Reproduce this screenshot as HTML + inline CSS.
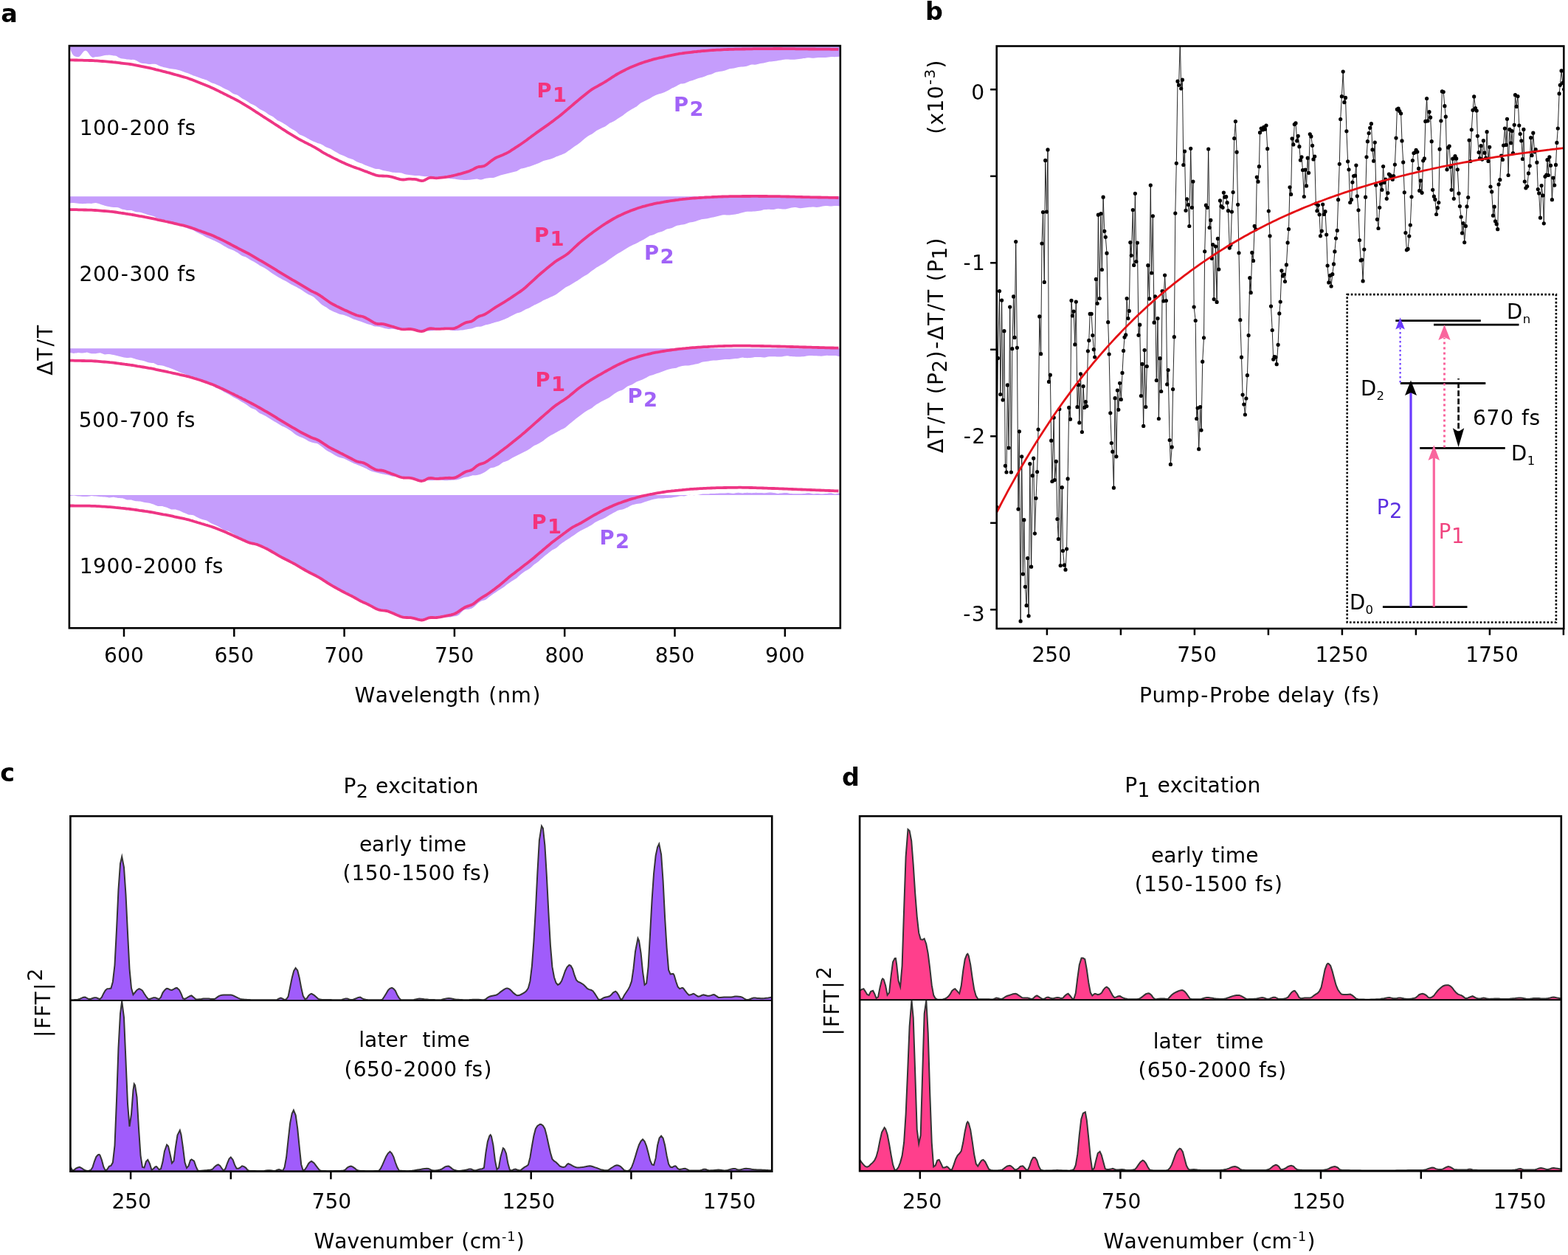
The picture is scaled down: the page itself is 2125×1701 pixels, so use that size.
<!DOCTYPE html>
<html lang="en">
<head>
<meta charset="utf-8">
<title>Figure</title>
<style>
html,body{margin:0;padding:0;background:#fff;}
body{width:2125px;height:1701px;overflow:hidden;}
svg{display:block;}
svg text{font-family:"DejaVu Sans", "Liberation Sans", sans-serif;}
</style>
</head>
<body>
<svg xmlns="http://www.w3.org/2000/svg" width="2125" height="1701" viewBox="0 0 2125 1701">
<rect width="2125" height="1701" fill="#fff"/>
<g id="panel-a">
<clipPath id="clipA"><rect x="93.9" y="62.1" width="1044.9" height="789.2"/></clipPath>
<g clip-path="url(#clipA)">
<path d="M93.9 63.0 L95.9 68.6 L97.9 73.1 L99.9 75.6 L101.9 76.5 L103.9 76.9 L105.9 77.2 L107.9 76.5 L109.9 74.3 L111.9 71.6 L113.9 69.2 L115.9 68.4 L117.9 69.6 L119.9 72.1 L121.9 74.9 L123.9 77.1 L125.9 77.9 L127.9 77.6 L129.9 77.1 L131.9 76.9 L133.9 76.7 L135.9 76.6 L137.9 76.1 L139.9 75.6 L141.9 75.0 L143.9 74.8 L145.9 74.7 L147.9 74.5 L149.9 74.8 L151.9 75.0 L154.0 75.4 L156.0 75.5 L158.0 76.1 L160.0 77.5 L162.0 78.5 L164.0 79.3 L166.0 79.5 L168.0 79.8 L170.0 80.1 L172.0 80.4 L174.0 80.6 L176.0 80.8 L178.0 81.0 L180.0 80.8 L182.0 81.0 L184.0 81.7 L186.0 82.7 L188.0 84.0 L190.0 85.1 L192.0 85.8 L194.0 86.1 L196.0 85.9 L198.0 86.3 L200.0 86.7 L202.0 87.0 L204.0 86.9 L206.0 86.8 L208.0 86.7 L210.0 86.7 L212.0 87.3 L214.0 88.2 L216.0 89.2 L218.0 90.1 L220.0 90.6 L222.0 91.2 L224.0 91.6 L226.0 92.0 L228.0 92.5 L230.0 92.9 L232.0 93.3 L234.0 93.6 L236.0 93.8 L238.0 94.1 L240.0 94.6 L242.0 95.1 L244.0 95.6 L246.0 96.2 L248.0 96.9 L250.0 97.7 L252.0 98.4 L254.0 99.1 L256.0 99.8 L258.0 100.7 L260.0 101.5 L262.0 102.4 L264.0 103.0 L266.0 103.7 L268.1 104.4 L270.1 105.2 L272.1 106.0 L274.1 106.8 L276.1 107.3 L278.1 107.9 L280.1 108.6 L282.1 109.7 L284.1 110.8 L286.1 112.0 L288.1 112.7 L290.1 113.3 L292.1 114.0 L294.1 114.9 L296.1 115.8 L298.1 116.7 L300.1 117.8 L302.1 118.9 L304.1 120.0 L306.1 120.9 L308.1 121.8 L310.1 122.8 L312.1 124.2 L314.1 125.7 L316.1 127.1 L318.1 127.7 L320.1 128.3 L322.1 129.0 L324.1 130.5 L326.1 132.0 L328.1 133.4 L330.1 134.5 L332.1 135.6 L334.1 136.7 L336.1 138.1 L338.1 139.5 L340.1 140.8 L342.1 141.6 L344.1 142.5 L346.1 143.4 L348.1 145.0 L350.1 146.6 L352.1 148.1 L354.1 149.0 L356.1 149.9 L358.1 150.9 L360.1 152.3 L362.1 153.8 L364.1 155.2 L366.1 156.2 L368.1 157.2 L370.1 158.3 L372.1 159.9 L374.1 161.6 L376.1 163.2 L378.1 164.1 L380.1 165.1 L382.1 166.1 L384.1 167.3 L386.2 168.5 L388.2 169.8 L390.2 171.2 L392.2 172.7 L394.2 174.1 L396.2 175.2 L398.2 176.3 L400.2 177.4 L402.2 179.1 L404.2 180.9 L406.2 182.5 L408.2 183.3 L410.2 184.1 L412.2 184.9 L414.2 186.1 L416.2 187.2 L418.2 188.2 L420.2 189.4 L422.2 190.5 L424.2 191.5 L426.2 192.3 L428.2 193.1 L430.2 193.9 L432.2 194.5 L434.2 195.1 L436.2 195.9 L438.2 197.1 L440.2 198.4 L442.2 199.6 L444.2 200.3 L446.2 201.0 L448.2 201.7 L450.2 202.9 L452.2 204.2 L454.2 205.4 L456.2 206.6 L458.2 207.8 L460.2 208.9 L462.2 209.7 L464.2 210.5 L466.2 211.3 L468.2 212.3 L470.2 213.3 L472.2 214.2 L474.2 214.8 L476.2 215.4 L478.2 216.1 L480.2 217.3 L482.2 218.4 L484.2 219.4 L486.2 220.2 L488.2 220.9 L490.2 221.6 L492.2 222.6 L494.2 223.5 L496.2 224.3 L498.2 225.0 L500.2 225.7 L502.3 226.4 L504.3 227.3 L506.3 228.1 L508.3 228.8 L510.3 229.0 L512.3 229.1 L514.3 229.2 L516.3 230.0 L518.3 230.7 L520.3 231.3 L522.3 231.6 L524.3 231.9 L526.3 232.3 L528.3 232.8 L530.3 233.3 L532.3 233.7 L534.3 233.8 L536.3 233.9 L538.3 234.0 L540.3 234.1 L542.3 234.2 L544.3 234.4 L546.3 235.2 L548.3 235.9 L550.3 236.6 L552.3 236.8 L554.3 237.0 L556.3 237.2 L558.3 237.5 L560.3 237.8 L562.3 238.1 L564.3 238.0 L566.3 238.0 L568.3 238.0 L570.3 238.4 L572.3 238.7 L574.3 239.0 L576.3 239.2 L578.3 239.3 L580.3 239.5 L582.3 239.8 L584.3 240.1 L586.3 240.3 L588.3 240.3 L590.3 240.3 L592.3 240.3 L594.3 240.5 L596.3 240.8 L598.3 240.9 L600.3 241.0 L602.3 241.0 L604.3 241.1 L606.3 241.5 L608.3 241.8 L610.3 242.2 L612.3 242.3 L614.3 242.4 L616.3 242.6 L618.4 242.9 L620.4 243.2 L622.4 243.5 L624.4 243.7 L626.4 243.8 L628.4 243.9 L630.4 243.9 L632.4 243.9 L634.4 243.8 L636.4 243.7 L638.4 243.5 L640.4 243.3 L642.4 243.0 L644.4 242.8 L646.4 242.6 L648.4 243.0 L650.4 243.4 L652.4 243.6 L654.4 243.0 L656.4 242.3 L658.4 241.8 L660.4 241.5 L662.4 241.3 L664.4 241.1 L666.4 241.0 L668.4 240.9 L670.4 240.6 L672.4 239.8 L674.4 239.0 L676.4 238.2 L678.4 237.6 L680.4 237.0 L682.4 236.4 L684.4 235.9 L686.4 235.5 L688.4 235.0 L690.4 234.5 L692.4 234.0 L694.4 233.4 L696.4 233.0 L698.4 232.5 L700.4 231.9 L702.4 230.8 L704.4 229.6 L706.4 228.6 L708.4 228.2 L710.4 227.7 L712.4 227.2 L714.4 226.6 L716.4 226.1 L718.4 225.5 L720.4 224.8 L722.4 224.1 L724.4 223.3 L726.4 222.5 L728.4 221.8 L730.4 220.9 L732.4 219.9 L734.5 218.9 L736.5 218.0 L738.5 217.5 L740.5 217.0 L742.5 216.5 L744.5 216.0 L746.5 215.4 L748.5 214.8 L750.5 213.9 L752.5 212.9 L754.5 212.1 L756.5 211.4 L758.5 210.6 L760.5 209.9 L762.5 209.1 L764.5 208.2 L766.5 207.2 L768.5 205.8 L770.5 204.3 L772.5 202.9 L774.5 201.5 L776.5 200.0 L778.5 198.6 L780.5 197.3 L782.5 195.9 L784.5 194.5 L786.5 192.9 L788.5 191.2 L790.5 189.4 L792.5 187.8 L794.5 186.2 L796.5 184.7 L798.5 183.6 L800.5 182.5 L802.5 181.4 L804.5 179.9 L806.5 178.4 L808.5 177.1 L810.5 176.0 L812.5 174.9 L814.5 173.9 L816.5 173.1 L818.5 172.3 L820.5 171.3 L822.5 169.7 L824.5 168.2 L826.5 166.8 L828.5 166.0 L830.5 165.1 L832.5 164.1 L834.5 162.7 L836.5 161.3 L838.5 159.9 L840.5 158.7 L842.5 157.5 L844.5 156.2 L846.5 154.6 L848.5 153.0 L850.6 151.5 L852.6 150.3 L854.6 149.0 L856.6 147.7 L858.6 146.7 L860.6 145.6 L862.6 144.4 L864.6 142.7 L866.6 141.1 L868.6 139.6 L870.6 138.5 L872.6 137.5 L874.6 136.5 L876.6 135.5 L878.6 134.6 L880.6 133.5 L882.6 132.3 L884.6 131.0 L886.6 129.9 L888.6 129.1 L890.6 128.2 L892.6 127.5 L894.6 127.0 L896.6 126.4 L898.6 125.8 L900.6 124.9 L902.6 124.0 L904.6 123.0 L906.6 121.9 L908.6 120.7 L910.6 119.6 L912.6 118.7 L914.6 117.7 L916.6 116.7 L918.6 115.5 L920.6 114.4 L922.6 113.6 L924.6 113.4 L926.6 113.2 L928.6 112.8 L930.6 111.8 L932.6 110.9 L934.6 110.1 L936.6 109.5 L938.6 109.0 L940.6 108.3 L942.6 107.5 L944.6 106.7 L946.6 106.0 L948.6 105.5 L950.6 105.1 L952.6 104.5 L954.6 103.7 L956.6 102.9 L958.6 102.1 L960.6 101.6 L962.6 101.0 L964.6 100.4 L966.7 99.4 L968.7 98.5 L970.7 97.8 L972.7 97.4 L974.7 97.1 L976.7 96.7 L978.7 96.4 L980.7 96.0 L982.7 95.5 L984.7 94.7 L986.7 93.9 L988.7 93.3 L990.7 93.1 L992.7 92.8 L994.7 92.5 L996.7 91.9 L998.7 91.4 L1000.7 90.9 L1002.7 90.8 L1004.7 90.6 L1006.7 90.4 L1008.7 90.2 L1010.7 90.0 L1012.7 89.6 L1014.7 88.8 L1016.7 88.0 L1018.7 87.6 L1020.7 87.6 L1022.7 87.7 L1024.7 87.5 L1026.7 87.0 L1028.7 86.5 L1030.7 86.1 L1032.7 85.8 L1034.7 85.4 L1036.7 85.0 L1038.7 84.5 L1040.7 84.0 L1042.7 83.6 L1044.7 83.5 L1046.7 83.3 L1048.7 83.1 L1050.7 82.8 L1052.7 82.5 L1054.7 82.1 L1056.7 81.7 L1058.7 81.4 L1060.7 81.1 L1062.7 80.8 L1064.7 80.6 L1066.7 80.6 L1068.7 80.6 L1070.7 80.7 L1072.7 80.7 L1074.7 80.7 L1076.7 80.7 L1078.7 80.6 L1080.8 80.3 L1082.8 80.0 L1084.8 79.7 L1086.8 79.4 L1088.8 79.1 L1090.8 78.9 L1092.8 78.6 L1094.8 78.3 L1096.8 78.3 L1098.8 78.5 L1100.8 78.8 L1102.8 78.8 L1104.8 78.5 L1106.8 78.3 L1108.8 78.1 L1110.8 78.1 L1112.8 78.1 L1114.8 78.0 L1116.8 77.9 L1118.8 77.9 L1120.8 77.7 L1122.8 77.5 L1124.8 77.2 L1126.8 77.1 L1128.8 77.1 L1130.8 77.2 L1132.8 77.1 L1134.8 77.0 L1136.8 76.8 L1138.8 76.5 L1138.8 62.1 L93.9 62.1 Z" fill="#c59dfc" stroke="none"/>
<path d="M93.9 275.3 L95.9 275.2 L97.9 275.1 L99.9 275.0 L101.9 275.3 L103.9 275.6 L105.9 275.8 L107.9 276.0 L109.9 276.1 L111.9 276.3 L113.9 276.1 L115.9 275.9 L117.9 275.8 L119.9 275.8 L121.9 275.8 L123.9 275.9 L125.9 275.6 L127.9 275.3 L129.9 275.1 L131.9 275.6 L133.9 276.1 L135.9 276.7 L137.9 277.4 L139.9 278.1 L141.9 278.8 L143.9 279.2 L145.9 279.7 L147.9 280.1 L149.9 280.5 L151.9 280.8 L154.0 281.1 L156.0 281.1 L158.0 281.1 L160.0 281.2 L162.0 282.0 L164.0 282.9 L166.0 283.7 L168.0 284.1 L170.0 284.5 L172.0 284.9 L174.0 284.9 L176.0 284.9 L178.0 285.0 L180.0 285.7 L182.0 286.5 L184.0 287.2 L186.0 287.4 L188.0 287.5 L190.0 287.7 L192.0 288.3 L194.0 288.9 L196.0 289.6 L198.0 290.2 L200.0 290.9 L202.0 291.6 L204.0 292.1 L206.0 292.6 L208.0 293.0 L210.0 294.0 L212.0 294.9 L214.0 295.8 L216.0 296.5 L218.0 297.1 L220.0 297.7 L222.0 298.0 L224.0 298.4 L226.0 298.8 L228.0 299.4 L230.0 300.0 L232.0 300.7 L234.0 301.2 L236.0 301.8 L238.0 302.4 L240.0 303.1 L242.0 303.8 L244.0 304.5 L246.0 305.6 L248.0 306.8 L250.0 307.9 L252.0 308.6 L254.0 309.4 L256.0 310.2 L258.0 310.7 L260.0 311.3 L262.0 312.0 L264.0 313.2 L266.0 314.4 L268.1 315.6 L270.1 316.5 L272.1 317.4 L274.1 318.3 L276.1 319.5 L278.1 320.7 L280.1 321.8 L282.1 322.6 L284.1 323.5 L286.1 324.3 L288.1 325.2 L290.1 326.1 L292.1 327.0 L294.1 328.0 L296.1 328.9 L298.1 329.9 L300.1 331.2 L302.1 332.5 L304.1 333.7 L306.1 334.8 L308.1 335.9 L310.1 337.0 L312.1 337.7 L314.1 338.5 L316.1 339.2 L318.1 340.3 L320.1 341.4 L322.1 342.5 L324.1 344.0 L326.1 345.4 L328.1 346.8 L330.1 347.5 L332.1 348.1 L334.1 348.9 L336.1 350.2 L338.1 351.5 L340.1 352.8 L342.1 353.8 L344.1 354.8 L346.1 355.9 L348.1 357.2 L350.1 358.5 L352.1 359.9 L354.1 360.9 L356.1 361.9 L358.1 363.0 L360.1 364.3 L362.1 365.6 L364.1 366.9 L366.1 368.4 L368.1 369.9 L370.1 371.3 L372.1 372.6 L374.1 373.8 L376.1 375.1 L378.1 376.2 L380.1 377.3 L382.1 378.4 L384.1 379.5 L386.2 380.5 L388.2 381.6 L390.2 382.8 L392.2 384.0 L394.2 385.2 L396.2 386.2 L398.2 387.2 L400.2 388.3 L402.2 389.3 L404.2 390.4 L406.2 391.5 L408.2 392.8 L410.2 394.1 L412.2 395.4 L414.2 396.7 L416.2 398.0 L418.2 399.2 L420.2 400.0 L422.2 400.9 L424.2 402.0 L426.2 403.6 L428.2 405.4 L430.2 407.2 L432.2 409.2 L434.2 411.2 L436.2 413.0 L438.2 414.3 L440.2 415.4 L442.2 416.5 L444.2 418.0 L446.2 419.4 L448.2 420.6 L450.2 421.6 L452.2 422.4 L454.2 423.3 L456.2 424.1 L458.2 425.0 L460.2 425.8 L462.2 426.2 L464.2 426.6 L466.2 427.1 L468.2 427.8 L470.2 428.6 L472.2 429.3 L474.2 430.3 L476.2 431.3 L478.2 432.3 L480.2 433.0 L482.2 433.6 L484.2 434.3 L486.2 434.9 L488.2 435.5 L490.2 436.2 L492.2 437.0 L494.2 437.8 L496.2 438.6 L498.2 439.2 L500.2 439.7 L502.3 440.3 L504.3 441.1 L506.3 441.9 L508.3 442.5 L510.3 442.6 L512.3 442.7 L514.3 442.9 L516.3 443.5 L518.3 444.1 L520.3 444.7 L522.3 445.2 L524.3 445.6 L526.3 446.0 L528.3 445.9 L530.3 445.8 L532.3 445.7 L534.3 446.1 L536.3 446.4 L538.3 446.7 L540.3 446.7 L542.3 446.7 L544.3 446.7 L546.3 446.9 L548.3 447.1 L550.3 447.3 L552.3 447.2 L554.3 447.1 L556.3 447.1 L558.3 447.2 L560.3 447.3 L562.3 447.4 L564.3 448.0 L566.3 448.5 L568.3 448.9 L570.3 448.7 L572.3 448.6 L574.3 448.4 L576.3 448.5 L578.3 448.5 L580.3 448.5 L582.3 448.4 L584.3 448.3 L586.3 448.2 L588.3 447.8 L590.3 447.4 L592.3 447.1 L594.3 446.9 L596.3 446.7 L598.3 446.5 L600.3 446.3 L602.3 446.1 L604.3 446.0 L606.3 446.4 L608.3 446.8 L610.3 447.4 L612.3 447.7 L614.3 448.1 L616.3 448.2 L618.4 448.1 L620.4 447.9 L622.4 447.7 L624.4 447.6 L626.4 447.5 L628.4 447.2 L630.4 446.8 L632.4 446.4 L634.4 446.0 L636.4 445.7 L638.4 445.4 L640.4 445.0 L642.4 444.2 L644.4 443.5 L646.4 442.9 L648.4 442.8 L650.4 442.7 L652.4 442.4 L654.4 441.7 L656.4 441.0 L658.4 440.3 L660.4 439.9 L662.4 439.5 L664.4 439.0 L666.4 438.3 L668.4 437.7 L670.4 437.0 L672.4 436.5 L674.4 436.0 L676.4 435.4 L678.4 434.8 L680.4 434.1 L682.4 433.3 L684.4 432.5 L686.4 431.6 L688.4 430.7 L690.4 429.6 L692.4 428.5 L694.4 427.4 L696.4 426.4 L698.4 425.4 L700.4 424.6 L702.4 424.0 L704.4 423.5 L706.4 422.8 L708.4 421.6 L710.4 420.4 L712.4 419.3 L714.4 418.5 L716.4 417.7 L718.4 416.7 L720.4 415.6 L722.4 414.4 L724.4 413.3 L726.4 412.4 L728.4 411.5 L730.4 410.5 L732.4 409.4 L734.5 408.2 L736.5 407.1 L738.5 406.2 L740.5 405.3 L742.5 404.4 L744.5 403.5 L746.5 402.6 L748.5 401.7 L750.5 400.7 L752.5 399.7 L754.5 398.5 L756.5 397.1 L758.5 395.6 L760.5 394.1 L762.5 392.6 L764.5 391.0 L766.5 389.6 L768.5 388.6 L770.5 387.5 L772.5 386.4 L774.5 385.2 L776.5 383.9 L778.5 382.7 L780.5 381.5 L782.5 380.4 L784.5 379.1 L786.5 377.7 L788.5 376.2 L790.5 374.9 L792.5 373.8 L794.5 372.8 L796.5 371.5 L798.5 369.9 L800.5 368.3 L802.5 366.8 L804.5 365.4 L806.5 364.0 L808.5 362.6 L810.5 361.5 L812.5 360.2 L814.5 359.1 L816.5 357.9 L818.5 356.8 L820.5 355.6 L822.5 354.1 L824.5 352.6 L826.5 351.1 L828.5 349.7 L830.5 348.2 L832.5 346.9 L834.5 345.6 L836.5 344.3 L838.5 343.1 L840.5 342.0 L842.5 340.8 L844.5 339.6 L846.5 338.3 L848.5 337.0 L850.6 335.7 L852.6 334.6 L854.6 333.5 L856.6 332.5 L858.6 331.6 L860.6 330.7 L862.6 329.8 L864.6 328.7 L866.6 327.6 L868.6 326.5 L870.6 325.5 L872.6 324.5 L874.6 323.3 L876.6 322.0 L878.6 320.7 L880.6 319.6 L882.6 319.0 L884.6 318.4 L886.6 317.7 L888.6 316.7 L890.6 315.8 L892.6 315.0 L894.6 314.5 L896.6 314.0 L898.6 313.3 L900.6 312.2 L902.6 311.1 L904.6 310.2 L906.6 309.9 L908.6 309.6 L910.6 309.1 L912.6 308.0 L914.6 307.0 L916.6 306.1 L918.6 305.6 L920.6 305.2 L922.6 304.7 L924.6 304.5 L926.6 304.2 L928.6 303.7 L930.6 303.0 L932.6 302.2 L934.6 301.6 L936.6 301.3 L938.6 301.0 L940.6 300.5 L942.6 299.9 L944.6 299.2 L946.6 298.5 L948.6 297.9 L950.6 297.3 L952.6 296.9 L954.6 296.8 L956.6 296.6 L958.6 296.3 L960.6 295.8 L962.6 295.3 L964.6 294.8 L966.7 294.4 L968.7 294.0 L970.7 293.5 L972.7 293.0 L974.7 292.4 L976.7 291.9 L978.7 291.6 L980.7 291.3 L982.7 291.2 L984.7 291.4 L986.7 291.5 L988.7 291.5 L990.7 291.2 L992.7 291.0 L994.7 290.7 L996.7 290.4 L998.7 290.1 L1000.7 289.7 L1002.7 289.1 L1004.7 288.4 L1006.7 287.9 L1008.7 287.4 L1010.7 287.0 L1012.7 286.7 L1014.7 286.7 L1016.7 286.8 L1018.7 286.8 L1020.7 286.6 L1022.7 286.5 L1024.7 286.3 L1026.7 286.1 L1028.7 285.8 L1030.7 285.4 L1032.7 284.9 L1034.7 284.3 L1036.7 284.0 L1038.7 283.9 L1040.7 283.8 L1042.7 283.8 L1044.7 284.0 L1046.7 284.1 L1048.7 283.9 L1050.7 283.4 L1052.7 282.9 L1054.7 282.7 L1056.7 283.0 L1058.7 283.3 L1060.7 283.5 L1062.7 283.4 L1064.7 283.4 L1066.7 283.1 L1068.7 282.5 L1070.7 281.9 L1072.7 281.5 L1074.7 281.3 L1076.7 281.1 L1078.7 281.1 L1080.8 281.6 L1082.8 282.1 L1084.8 282.2 L1086.8 282.0 L1088.8 281.8 L1090.8 281.6 L1092.8 281.3 L1094.8 281.0 L1096.8 280.8 L1098.8 280.7 L1100.8 280.6 L1102.8 280.6 L1104.8 280.7 L1106.8 280.9 L1108.8 280.8 L1110.8 280.4 L1112.8 279.9 L1114.8 279.6 L1116.8 279.3 L1118.8 279.0 L1120.8 279.0 L1122.8 279.2 L1124.8 279.5 L1126.8 279.5 L1128.8 279.3 L1130.8 279.0 L1132.8 278.9 L1134.8 279.1 L1136.8 279.3 L1138.8 279.4 L1138.8 266.2 L93.9 266.2 Z" fill="#c59dfc" stroke="none"/>
<path d="M93.9 477.9 L95.9 478.2 L97.9 478.6 L99.9 478.9 L101.9 478.6 L103.9 478.4 L105.9 478.1 L107.9 478.2 L109.9 478.4 L111.9 478.6 L113.9 478.2 L115.9 477.9 L117.9 477.6 L119.9 478.2 L121.9 478.7 L123.9 479.3 L125.9 479.2 L127.9 479.2 L129.9 479.3 L131.9 478.8 L133.9 478.5 L135.9 478.2 L137.9 478.9 L139.9 479.7 L141.9 480.5 L143.9 480.3 L145.9 480.1 L147.9 480.0 L149.9 480.3 L151.9 480.7 L154.0 481.1 L156.0 481.5 L158.0 482.0 L160.0 482.5 L162.0 483.1 L164.0 483.6 L166.0 484.1 L168.0 484.4 L170.0 484.7 L172.0 485.0 L174.0 484.9 L176.0 484.8 L178.0 484.7 L180.0 485.4 L182.0 486.1 L184.0 486.8 L186.0 487.3 L188.0 487.7 L190.0 488.2 L192.0 488.6 L194.0 489.1 L196.0 489.5 L198.0 490.2 L200.0 490.9 L202.0 491.5 L204.0 491.7 L206.0 491.9 L208.0 492.1 L210.0 493.0 L212.0 493.9 L214.0 494.9 L216.0 495.0 L218.0 495.2 L220.0 495.4 L222.0 496.1 L224.0 496.8 L226.0 497.5 L228.0 498.1 L230.0 498.8 L232.0 499.4 L234.0 500.2 L236.0 501.1 L238.0 501.9 L240.0 502.8 L242.0 503.8 L244.0 504.7 L246.0 505.4 L248.0 506.0 L250.0 506.7 L252.0 507.7 L254.0 508.6 L256.0 509.6 L258.0 510.0 L260.0 510.5 L262.0 511.0 L264.0 512.1 L266.0 513.2 L268.1 514.3 L270.1 515.1 L272.1 515.9 L274.1 516.7 L276.1 517.4 L278.1 518.0 L280.1 518.7 L282.1 519.6 L284.1 520.5 L286.1 521.5 L288.1 522.8 L290.1 524.1 L292.1 525.4 L294.1 526.2 L296.1 527.0 L298.1 527.8 L300.1 529.0 L302.1 530.3 L304.1 531.5 L306.1 532.5 L308.1 533.5 L310.1 534.6 L312.1 535.8 L314.1 537.1 L316.1 538.3 L318.1 539.3 L320.1 540.3 L322.1 541.3 L324.1 542.5 L326.1 543.7 L328.1 544.9 L330.1 546.1 L332.1 547.3 L334.1 548.5 L336.1 550.0 L338.1 551.6 L340.1 553.0 L342.1 553.8 L344.1 554.5 L346.1 555.3 L348.1 557.0 L350.1 558.7 L352.1 560.3 L354.1 561.1 L356.1 562.0 L358.1 562.9 L360.1 564.1 L362.1 565.3 L364.1 566.6 L366.1 567.8 L368.1 569.0 L370.1 570.2 L372.1 571.4 L374.1 572.5 L376.1 573.7 L378.1 574.9 L380.1 576.2 L382.1 577.4 L384.1 578.3 L386.2 579.2 L388.2 580.2 L390.2 581.4 L392.2 582.7 L394.2 584.0 L396.2 585.6 L398.2 587.3 L400.2 588.8 L402.2 590.0 L404.2 591.1 L406.2 592.1 L408.2 592.8 L410.2 593.6 L412.2 594.4 L414.2 595.6 L416.2 596.8 L418.2 597.9 L420.2 598.8 L422.2 599.5 L424.2 600.1 L426.2 600.5 L428.2 600.8 L430.2 601.3 L432.2 602.5 L434.2 604.0 L436.2 605.6 L438.2 607.1 L440.2 608.7 L442.2 610.2 L444.2 611.5 L446.2 612.6 L448.2 613.5 L450.2 614.8 L452.2 616.1 L454.2 617.3 L456.2 618.3 L458.2 619.2 L460.2 620.1 L462.2 620.5 L464.2 621.0 L466.2 621.5 L468.2 622.5 L470.2 623.5 L472.2 624.5 L474.2 625.5 L476.2 626.6 L478.2 627.6 L480.2 628.4 L482.2 629.1 L484.2 629.9 L486.2 630.7 L488.2 631.6 L490.2 632.5 L492.2 633.3 L494.2 634.2 L496.2 635.1 L498.2 636.2 L500.2 637.3 L502.3 638.3 L504.3 638.9 L506.3 639.4 L508.3 640.0 L510.3 640.6 L512.3 641.1 L514.3 641.6 L516.3 642.0 L518.3 642.4 L520.3 642.7 L522.3 643.2 L524.3 643.6 L526.3 644.0 L528.3 644.6 L530.3 645.3 L532.3 645.7 L534.3 645.7 L536.3 645.6 L538.3 645.7 L540.3 646.5 L542.3 647.3 L544.3 647.9 L546.3 647.7 L548.3 647.4 L550.3 647.3 L552.3 647.9 L554.3 648.5 L556.3 649.0 L558.3 649.0 L560.3 648.9 L562.3 649.0 L564.3 649.6 L566.3 650.2 L568.3 650.7 L570.3 650.8 L572.3 650.8 L574.3 650.8 L576.3 650.9 L578.3 651.0 L580.3 651.2 L582.3 651.2 L584.3 651.3 L586.3 651.2 L588.3 650.9 L590.3 650.6 L592.3 650.4 L594.3 650.6 L596.3 650.7 L598.3 650.8 L600.3 651.0 L602.3 651.2 L604.3 651.3 L606.3 651.2 L608.3 651.1 L610.3 651.0 L612.3 650.8 L614.3 650.7 L616.3 650.6 L618.4 650.4 L620.4 650.0 L622.4 649.4 L624.4 648.7 L626.4 647.9 L628.4 647.2 L630.4 646.8 L632.4 646.6 L634.4 646.3 L636.4 645.6 L638.4 644.9 L640.4 644.3 L642.4 644.3 L644.4 644.3 L646.4 644.1 L648.4 643.6 L650.4 643.0 L652.4 642.3 L654.4 641.3 L656.4 640.2 L658.4 639.0 L660.4 637.4 L662.4 635.9 L664.4 634.6 L666.4 634.1 L668.4 633.7 L670.4 633.2 L672.4 632.3 L674.4 631.4 L676.4 630.4 L678.4 629.0 L680.4 627.6 L682.4 626.3 L684.4 625.7 L686.4 625.1 L688.4 624.3 L690.4 623.0 L692.4 621.7 L694.4 620.5 L696.4 619.5 L698.4 618.5 L700.4 617.5 L702.4 616.5 L704.4 615.5 L706.4 614.5 L708.4 613.5 L710.4 612.6 L712.4 611.6 L714.4 610.4 L716.4 609.2 L718.4 607.9 L720.4 606.5 L722.4 605.1 L724.4 603.8 L726.4 602.9 L728.4 602.0 L730.4 601.0 L732.4 599.7 L734.5 598.5 L736.5 597.2 L738.5 595.5 L740.5 593.9 L742.5 592.4 L744.5 591.2 L746.5 590.1 L748.5 588.9 L750.5 587.9 L752.5 586.8 L754.5 585.7 L756.5 584.5 L758.5 583.4 L760.5 582.3 L762.5 581.4 L764.5 580.5 L766.5 579.3 L768.5 577.6 L770.5 575.7 L772.5 573.9 L774.5 572.4 L776.5 570.8 L778.5 569.2 L780.5 567.6 L782.5 566.1 L784.5 564.6 L786.5 563.1 L788.5 561.6 L790.5 560.1 L792.5 558.6 L794.5 557.2 L796.5 555.9 L798.5 554.9 L800.5 553.9 L802.5 552.7 L804.5 551.1 L806.5 549.5 L808.5 548.0 L810.5 546.9 L812.5 545.7 L814.5 544.6 L816.5 543.5 L818.5 542.5 L820.5 541.4 L822.5 540.4 L824.5 539.4 L826.5 538.3 L828.5 536.7 L830.5 535.2 L832.5 533.7 L834.5 532.5 L836.5 531.2 L838.5 530.2 L840.5 529.6 L842.5 528.9 L844.5 528.0 L846.5 526.5 L848.5 524.9 L850.6 523.6 L852.6 522.8 L854.6 522.1 L856.6 521.2 L858.6 519.9 L860.6 518.7 L862.6 517.6 L864.6 516.8 L866.6 516.0 L868.6 515.2 L870.6 514.4 L872.6 513.5 L874.6 512.6 L876.6 511.4 L878.6 510.3 L880.6 509.3 L882.6 508.7 L884.6 508.2 L886.6 507.5 L888.6 506.8 L890.6 506.1 L892.6 505.4 L894.6 504.7 L896.6 503.9 L898.6 503.2 L900.6 502.5 L902.6 501.8 L904.6 501.1 L906.6 500.5 L908.6 499.9 L910.6 499.5 L912.6 499.3 L914.6 499.1 L916.6 498.7 L918.6 497.8 L920.6 497.0 L922.6 496.4 L924.6 496.1 L926.6 495.8 L928.6 495.5 L930.6 495.5 L932.6 495.5 L934.6 495.3 L936.6 494.8 L938.6 494.4 L940.6 494.0 L942.6 493.6 L944.6 493.2 L946.6 492.7 L948.6 491.9 L950.6 491.1 L952.6 490.5 L954.6 490.3 L956.6 490.0 L958.6 489.8 L960.6 489.4 L962.6 489.1 L964.6 488.8 L966.7 488.6 L968.7 488.5 L970.7 488.4 L972.7 488.2 L974.7 488.0 L976.7 487.8 L978.7 487.5 L980.7 487.2 L982.7 487.0 L984.7 487.0 L986.7 487.1 L988.7 487.0 L990.7 486.7 L992.7 486.5 L994.7 486.3 L996.7 486.1 L998.7 486.0 L1000.7 485.7 L1002.7 485.2 L1004.7 484.8 L1006.7 484.6 L1008.7 484.9 L1010.7 485.1 L1012.7 485.2 L1014.7 485.1 L1016.7 484.9 L1018.7 484.7 L1020.7 484.4 L1022.7 484.1 L1024.7 483.9 L1026.7 483.9 L1028.7 483.9 L1030.7 484.0 L1032.7 484.2 L1034.7 484.5 L1036.7 484.5 L1038.7 484.0 L1040.7 483.6 L1042.7 483.3 L1044.7 483.2 L1046.7 483.2 L1048.7 483.2 L1050.7 483.3 L1052.7 483.4 L1054.7 483.4 L1056.7 483.4 L1058.7 483.4 L1060.7 483.2 L1062.7 482.8 L1064.7 482.4 L1066.7 482.3 L1068.7 482.6 L1070.7 482.9 L1072.7 483.1 L1074.7 483.2 L1076.7 483.3 L1078.7 483.4 L1080.8 483.4 L1082.8 483.5 L1084.8 483.5 L1086.8 483.3 L1088.8 483.2 L1090.8 482.9 L1092.8 482.5 L1094.8 482.2 L1096.8 482.0 L1098.8 482.0 L1100.8 482.1 L1102.8 482.2 L1104.8 482.3 L1106.8 482.3 L1108.8 482.4 L1110.8 482.6 L1112.8 482.7 L1114.8 482.6 L1116.8 482.2 L1118.8 481.9 L1120.8 481.8 L1122.8 481.9 L1124.8 482.1 L1126.8 482.1 L1128.8 482.1 L1130.8 482.0 L1132.8 482.1 L1134.8 482.5 L1136.8 482.9 L1138.8 483.0 L1138.8 472.3 L93.9 472.3 Z" fill="#c59dfc" stroke="none"/>
<path d="M93.9 672.4 L95.9 672.1 L97.9 671.8 L99.9 671.4 L101.9 671.8 L103.9 672.2 L105.9 672.5 L107.9 672.6 L109.9 672.8 L111.9 672.9 L113.9 672.9 L115.9 672.9 L117.9 673.0 L119.9 672.7 L121.9 672.4 L123.9 672.1 L125.9 672.3 L127.9 672.4 L129.9 672.6 L131.9 672.8 L133.9 673.0 L135.9 673.3 L137.9 673.3 L139.9 673.5 L141.9 673.6 L143.9 673.8 L145.9 674.1 L147.9 674.4 L149.9 674.2 L151.9 674.0 L154.0 673.8 L156.0 674.2 L158.0 674.6 L160.0 674.9 L162.0 675.1 L164.0 675.2 L166.0 675.3 L168.0 676.1 L170.0 676.8 L172.0 677.6 L174.0 677.6 L176.0 677.6 L178.0 677.6 L180.0 678.2 L182.0 678.7 L184.0 679.2 L186.0 679.3 L188.0 679.5 L190.0 679.6 L192.0 680.1 L194.0 680.5 L196.0 681.0 L198.0 681.2 L200.0 681.4 L202.0 681.7 L204.0 682.3 L206.0 683.0 L208.0 683.6 L210.0 684.4 L212.0 685.2 L214.0 686.0 L216.0 686.0 L218.0 686.1 L220.0 686.1 L222.0 686.7 L224.0 687.2 L226.0 687.8 L228.0 688.7 L230.0 689.6 L232.0 690.4 L234.0 690.5 L236.0 690.5 L238.0 690.6 L240.0 691.2 L242.0 691.8 L244.0 692.5 L246.0 693.4 L248.0 694.4 L250.0 695.3 L252.0 696.1 L254.0 696.9 L256.0 697.7 L258.0 697.8 L260.0 698.0 L262.0 698.2 L264.0 699.3 L266.0 700.5 L268.1 701.6 L270.1 702.4 L272.1 703.2 L274.1 704.0 L276.1 704.5 L278.1 704.9 L280.1 705.4 L282.1 706.7 L284.1 708.0 L286.1 709.2 L288.1 710.1 L290.1 710.9 L292.1 711.8 L294.1 712.8 L296.1 713.8 L298.1 714.9 L300.1 716.2 L302.1 717.5 L304.1 718.7 L306.1 719.1 L308.1 719.6 L310.1 720.1 L312.1 721.2 L314.1 722.4 L316.1 723.5 L318.1 724.8 L320.1 726.1 L322.1 727.3 L324.1 728.1 L326.1 729.0 L328.1 730.0 L330.1 731.2 L332.1 732.3 L334.1 733.3 L336.1 734.4 L338.1 735.4 L340.1 736.1 L342.1 736.5 L344.1 736.9 L346.1 737.3 L348.1 737.3 L350.1 737.5 L352.1 738.0 L354.1 739.0 L356.1 740.1 L358.1 741.3 L360.1 742.2 L362.1 743.1 L364.1 744.1 L366.1 745.3 L368.1 746.6 L370.1 747.9 L372.1 749.3 L374.1 750.6 L376.1 752.0 L378.1 753.3 L380.1 754.5 L382.1 755.7 L384.1 756.3 L386.2 756.8 L388.2 757.5 L390.2 758.8 L392.2 760.1 L394.2 761.4 L396.2 762.4 L398.2 763.4 L400.2 764.4 L402.2 765.3 L404.2 766.3 L406.2 767.3 L408.2 768.5 L410.2 769.7 L412.2 770.9 L414.2 772.1 L416.2 773.3 L418.2 774.5 L420.2 775.4 L422.2 776.3 L424.2 777.3 L426.2 778.7 L428.2 780.2 L430.2 781.6 L432.2 782.5 L434.2 783.6 L436.2 784.7 L438.2 785.8 L440.2 786.9 L442.2 788.0 L444.2 789.6 L446.2 791.1 L448.2 792.5 L450.2 793.7 L452.2 794.8 L454.2 795.9 L456.2 796.7 L458.2 797.5 L460.2 798.4 L462.2 799.9 L464.2 801.5 L466.2 802.8 L468.2 803.6 L470.2 804.4 L472.2 805.1 L474.2 806.0 L476.2 806.8 L478.2 807.6 L480.2 808.7 L482.2 809.7 L484.2 810.7 L486.2 811.9 L488.2 813.1 L490.2 814.2 L492.2 815.4 L494.2 816.5 L496.2 817.7 L498.2 818.9 L500.2 820.1 L502.3 821.5 L504.3 822.8 L506.3 824.1 L508.3 825.2 L510.3 826.0 L512.3 826.5 L514.3 826.7 L516.3 826.7 L518.3 826.6 L520.3 826.7 L522.3 827.3 L524.3 828.1 L526.3 828.8 L528.3 829.1 L530.3 829.6 L532.3 830.3 L534.3 831.3 L536.3 832.3 L538.3 833.3 L540.3 834.6 L542.3 835.7 L544.3 836.5 L546.3 836.3 L548.3 836.0 L550.3 835.8 L552.3 836.0 L554.3 836.1 L556.3 836.4 L558.3 836.7 L560.3 837.2 L562.3 837.7 L564.3 838.1 L566.3 838.5 L568.3 838.8 L570.3 839.3 L572.3 839.6 L574.3 839.8 L576.3 839.4 L578.3 839.1 L580.3 838.7 L582.3 838.5 L584.3 838.2 L586.3 838.0 L588.3 838.3 L590.3 838.6 L592.3 838.7 L594.3 838.2 L596.3 837.7 L598.3 837.2 L600.3 837.0 L602.3 836.8 L604.3 836.6 L606.3 836.6 L608.3 836.5 L610.3 836.4 L612.3 836.0 L614.3 835.6 L616.3 835.3 L618.4 834.9 L620.4 834.2 L622.4 832.9 L624.4 830.8 L626.4 828.8 L628.4 827.0 L630.4 826.3 L632.4 826.0 L634.4 825.9 L636.4 825.4 L638.4 824.9 L640.4 824.1 L642.4 822.6 L644.4 820.8 L646.4 818.8 L648.4 817.1 L650.4 815.7 L652.4 814.6 L654.4 814.1 L656.4 813.6 L658.4 812.8 L660.4 811.2 L662.4 809.5 L664.4 807.9 L666.4 806.5 L668.4 805.1 L670.4 803.7 L672.4 802.4 L674.4 801.1 L676.4 799.8 L678.4 798.6 L680.4 797.3 L682.4 796.0 L684.4 794.4 L686.4 792.8 L688.4 791.3 L690.4 789.9 L692.4 788.6 L694.4 787.3 L696.4 786.0 L698.4 784.8 L700.4 783.4 L702.4 781.6 L704.4 779.8 L706.4 778.1 L708.4 776.6 L710.4 775.1 L712.4 773.8 L714.4 772.7 L716.4 771.6 L718.4 770.2 L720.4 768.4 L722.4 766.4 L724.4 764.7 L726.4 763.4 L728.4 762.1 L730.4 760.6 L732.4 758.6 L734.5 756.7 L736.5 754.9 L738.5 753.3 L740.5 751.7 L742.5 750.2 L744.5 748.5 L746.5 746.9 L748.5 745.5 L750.5 744.4 L752.5 743.4 L754.5 742.2 L756.5 740.4 L758.5 738.6 L760.5 737.0 L762.5 735.6 L764.5 734.2 L766.5 732.8 L768.5 731.5 L770.5 730.2 L772.5 728.9 L774.5 727.6 L776.5 726.3 L778.5 724.9 L780.5 723.5 L782.5 722.1 L784.5 720.7 L786.5 719.6 L788.5 718.5 L790.5 717.4 L792.5 716.4 L794.5 715.5 L796.5 714.5 L798.5 713.3 L800.5 712.2 L802.5 711.0 L804.5 709.6 L806.5 708.1 L808.5 706.9 L810.5 706.0 L812.5 705.1 L814.5 704.3 L816.5 703.4 L818.5 702.5 L820.5 701.5 L822.5 700.3 L824.5 699.0 L826.5 697.8 L828.5 696.7 L830.5 695.6 L832.5 694.5 L834.5 693.4 L836.5 692.2 L838.5 691.4 L840.5 691.0 L842.5 690.7 L844.5 690.2 L846.5 689.4 L848.5 688.6 L850.6 687.7 L852.6 686.6 L854.6 685.4 L856.6 684.5 L858.6 683.9 L860.6 683.4 L862.6 683.0 L864.6 682.8 L866.6 682.6 L868.6 682.3 L870.6 681.6 L872.6 680.8 L874.6 680.1 L876.6 679.5 L878.6 678.8 L880.6 678.2 L882.6 677.6 L884.6 677.0 L886.6 676.6 L888.6 676.2 L890.6 675.8 L892.6 675.5 L894.6 675.5 L896.6 675.5 L898.6 675.4 L900.6 675.2 L902.6 675.1 L904.6 674.9 L906.6 674.8 L908.6 674.7 L910.6 674.5 L912.6 674.1 L914.6 673.7 L916.6 673.4 L918.6 672.9 L920.6 672.5 L922.6 672.3 L924.6 672.3 L926.6 672.4 L928.6 672.2 L930.6 671.6 L932.6 671.1 L934.6 670.8 L936.6 670.9 L938.6 671.1 L940.6 671.2 L942.6 671.1 L944.6 671.1 L946.6 670.8 L948.6 670.3 L950.6 669.8 L952.6 669.5 L954.6 669.6 L956.6 669.6 L958.6 669.6 L960.6 669.4 L962.6 669.1 L964.6 668.9 L966.7 668.9 L968.7 668.9 L970.7 668.8 L972.7 668.7 L974.7 668.6 L976.7 668.5 L978.7 668.5 L980.7 668.5 L982.7 668.4 L984.7 668.3 L986.7 668.1 L988.7 668.2 L990.7 668.5 L992.7 668.8 L994.7 668.8 L996.7 668.3 L998.7 667.9 L1000.7 667.8 L1002.7 668.0 L1004.7 668.3 L1006.7 668.4 L1008.7 668.1 L1010.7 667.9 L1012.7 667.8 L1014.7 667.9 L1016.7 668.1 L1018.7 668.2 L1020.7 668.0 L1022.7 667.9 L1024.7 667.8 L1026.7 667.9 L1028.7 667.9 L1030.7 668.0 L1032.7 668.1 L1034.7 668.2 L1036.7 668.2 L1038.7 668.0 L1040.7 667.7 L1042.7 667.6 L1044.7 667.6 L1046.7 667.7 L1048.7 667.9 L1050.7 668.3 L1052.7 668.7 L1054.7 668.9 L1056.7 668.6 L1058.7 668.4 L1060.7 668.2 L1062.7 668.1 L1064.7 668.0 L1066.7 668.1 L1068.7 668.5 L1070.7 668.9 L1072.7 669.1 L1074.7 669.2 L1076.7 669.3 L1078.7 669.3 L1080.8 669.3 L1082.8 669.3 L1084.8 669.2 L1086.8 669.2 L1088.8 669.1 L1090.8 668.9 L1092.8 668.6 L1094.8 668.2 L1096.8 668.2 L1098.8 668.7 L1100.8 669.2 L1102.8 669.4 L1104.8 669.3 L1106.8 669.1 L1108.8 669.1 L1110.8 669.3 L1112.8 669.5 L1114.8 669.5 L1116.8 669.3 L1118.8 669.1 L1120.8 668.9 L1122.8 668.6 L1124.8 668.2 L1126.8 668.3 L1128.8 668.9 L1130.8 669.5 L1132.8 669.6 L1134.8 669.1 L1136.8 668.6 L1138.8 668.5 L1138.8 671.0 L93.9 671.0 Z" fill="#c59dfc" stroke="none"/>
<path d="M93.9 81.3 L96.4 81.4 L98.9 81.4 L101.4 81.5 L103.9 81.5 L106.4 81.6 L108.9 81.7 L111.4 81.7 L113.9 81.8 L116.4 81.8 L118.9 81.9 L121.4 82.0 L123.9 82.0 L126.4 82.1 L128.9 82.3 L131.4 82.4 L133.9 82.6 L136.4 82.8 L138.9 83.0 L141.4 83.2 L143.9 83.4 L146.4 83.6 L148.9 83.8 L151.4 84.0 L153.9 84.3 L156.4 84.5 L158.9 84.8 L161.4 85.1 L163.9 85.5 L166.4 85.8 L168.9 86.1 L171.4 86.4 L173.9 86.7 L176.4 87.0 L178.9 87.4 L181.4 87.9 L183.9 88.3 L186.4 88.8 L188.9 89.3 L191.4 89.9 L193.9 90.4 L196.4 90.9 L198.9 91.4 L201.4 91.9 L203.9 92.4 L206.4 93.0 L208.9 93.6 L211.4 94.3 L213.9 94.9 L216.4 95.5 L218.9 96.2 L221.4 96.8 L223.9 97.4 L226.4 98.1 L228.9 98.7 L231.4 99.4 L233.9 100.1 L236.4 100.8 L238.9 101.5 L241.4 102.2 L243.9 102.9 L246.4 103.6 L248.9 104.3 L251.4 105.0 L253.9 105.8 L256.4 106.7 L258.9 107.6 L261.4 108.6 L263.9 109.6 L266.4 110.6 L268.9 111.6 L271.4 112.6 L273.9 113.6 L276.4 114.6 L278.9 115.6 L281.4 116.6 L283.9 117.6 L286.4 118.7 L288.9 119.8 L291.4 121.0 L293.9 122.2 L296.4 123.4 L298.9 124.7 L301.4 125.9 L303.9 127.2 L306.4 128.4 L308.9 129.7 L311.4 130.9 L313.9 132.2 L316.4 133.4 L318.9 134.7 L321.4 136.0 L323.9 137.4 L326.4 138.8 L328.9 140.3 L331.4 141.9 L333.9 143.4 L336.4 144.9 L338.9 146.4 L341.4 148.0 L343.9 149.6 L346.4 151.3 L348.9 152.9 L351.4 154.5 L353.9 156.1 L356.4 157.8 L358.9 159.4 L361.4 161.0 L363.9 162.6 L366.4 164.2 L368.9 165.8 L371.4 167.5 L373.9 169.1 L376.4 170.7 L378.9 172.3 L381.4 174.0 L383.9 175.6 L386.4 177.2 L388.9 178.8 L391.4 180.4 L393.9 181.9 L396.4 183.4 L398.9 184.9 L401.4 186.4 L403.9 187.9 L406.4 189.3 L408.9 190.6 L411.4 191.9 L413.9 193.2 L416.4 194.4 L418.9 195.7 L421.4 196.9 L423.9 198.3 L426.4 199.7 L428.9 201.2 L431.4 202.7 L433.9 204.2 L436.4 205.8 L438.9 207.3 L441.4 208.7 L443.9 210.1 L446.4 211.3 L448.9 212.6 L451.4 213.9 L453.9 215.1 L456.4 216.3 L458.9 217.6 L461.4 218.8 L463.9 219.9 L466.4 221.0 L468.9 222.2 L471.4 223.3 L473.9 224.3 L476.4 225.3 L478.9 226.2 L481.4 227.1 L483.9 228.0 L486.4 228.8 L488.9 229.8 L491.4 230.7 L493.9 231.7 L496.4 232.6 L498.9 233.6 L501.4 234.5 L503.9 235.5 L506.4 236.4 L508.9 237.3 L511.4 237.9 L513.9 238.3 L516.4 238.4 L518.9 238.5 L521.4 238.6 L523.9 238.7 L526.4 238.9 L528.9 239.3 L531.4 239.9 L533.9 240.6 L536.4 241.4 L538.9 242.2 L541.4 242.9 L543.9 243.4 L546.4 243.5 L548.9 243.3 L551.4 242.9 L553.9 242.7 L556.4 242.7 L558.9 242.8 L561.4 242.9 L563.9 243.2 L566.4 243.9 L568.9 244.7 L571.4 245.2 L573.9 244.9 L576.4 243.7 L578.9 242.3 L581.4 241.1 L583.9 240.7 L586.4 240.8 L588.9 241.2 L591.4 241.3 L593.9 241.2 L596.4 240.9 L598.9 240.6 L601.4 240.3 L603.9 240.0 L606.4 239.7 L608.9 239.2 L611.4 238.7 L613.9 238.1 L616.4 237.5 L618.9 236.9 L621.4 236.2 L623.9 235.6 L626.4 234.9 L628.9 234.1 L631.4 233.4 L633.9 232.6 L636.4 231.7 L638.9 230.6 L641.4 229.4 L643.9 228.0 L646.4 226.8 L648.9 226.0 L651.4 225.8 L653.9 225.5 L656.4 224.8 L658.9 223.4 L661.4 221.5 L663.9 219.5 L666.4 217.6 L668.9 215.8 L671.4 214.2 L673.9 212.9 L676.4 211.9 L678.9 210.9 L681.4 209.9 L683.9 208.8 L686.4 207.7 L688.9 206.3 L691.4 204.8 L693.9 203.2 L696.4 201.6 L698.9 199.9 L701.4 198.3 L703.9 196.7 L706.4 195.0 L708.9 193.3 L711.4 191.5 L713.9 189.7 L716.4 187.8 L718.9 186.0 L721.4 184.1 L723.9 182.3 L726.4 180.4 L728.9 178.6 L731.4 176.9 L733.9 175.1 L736.4 173.4 L738.9 171.6 L741.4 169.9 L743.9 168.1 L746.4 166.2 L748.9 164.4 L751.4 162.5 L753.9 160.6 L756.4 158.7 L758.9 156.8 L761.4 154.7 L763.9 152.6 L766.4 150.5 L768.9 148.4 L771.4 146.2 L773.9 144.1 L776.4 142.0 L778.9 139.8 L781.4 137.7 L783.9 135.6 L786.4 133.5 L788.9 131.5 L791.4 129.5 L793.9 127.5 L796.4 125.5 L798.9 123.6 L801.4 121.7 L803.9 120.1 L806.4 118.7 L808.9 117.3 L811.4 115.9 L813.9 114.5 L816.4 113.1 L818.9 111.7 L821.4 110.1 L823.9 108.5 L826.4 106.9 L828.9 105.2 L831.4 103.6 L833.9 102.0 L836.4 100.5 L838.9 99.1 L841.4 97.8 L843.9 96.5 L846.4 95.2 L848.9 93.9 L851.4 92.7 L853.9 91.6 L856.4 90.5 L858.9 89.5 L861.4 88.5 L863.9 87.5 L866.4 86.5 L868.9 85.6 L871.4 84.7 L873.9 83.9 L876.4 83.2 L878.9 82.4 L881.4 81.7 L883.9 80.9 L886.4 80.2 L888.9 79.6 L891.4 79.0 L893.9 78.4 L896.4 77.9 L898.9 77.3 L901.4 76.7 L903.9 76.2 L906.4 75.6 L908.9 75.1 L911.4 74.6 L913.9 74.1 L916.4 73.6 L918.9 73.2 L921.4 72.7 L923.9 72.4 L926.4 72.0 L928.9 71.7 L931.4 71.4 L933.9 71.1 L936.4 70.8 L938.9 70.5 L941.4 70.2 L943.9 70.0 L946.4 69.7 L948.9 69.5 L951.4 69.2 L953.9 69.0 L956.4 68.8 L958.9 68.6 L961.4 68.4 L963.9 68.2 L966.4 68.0 L968.9 67.9 L971.4 67.7 L973.9 67.6 L976.4 67.5 L978.9 67.3 L981.4 67.2 L983.9 67.1 L986.4 67.0 L988.9 66.9 L991.4 66.8 L993.9 66.8 L996.4 66.7 L998.9 66.7 L1001.4 66.6 L1003.9 66.6 L1006.4 66.5 L1008.9 66.5 L1011.4 66.4 L1013.9 66.4 L1016.4 66.3 L1018.9 66.3 L1021.4 66.2 L1023.9 66.2 L1026.4 66.2 L1028.9 66.2 L1031.4 66.1 L1033.9 66.1 L1036.4 66.1 L1038.9 66.1 L1041.4 66.1 L1043.9 66.1 L1046.4 66.1 L1048.9 66.0 L1051.4 66.0 L1053.9 66.0 L1056.4 66.0 L1058.9 66.0 L1061.4 66.1 L1063.9 66.1 L1066.4 66.1 L1068.9 66.2 L1071.4 66.2 L1073.9 66.2 L1076.4 66.2 L1078.9 66.3 L1081.4 66.3 L1083.9 66.3 L1086.4 66.4 L1088.9 66.4 L1091.4 66.4 L1093.9 66.4 L1096.4 66.5 L1098.9 66.5 L1101.4 66.5 L1103.9 66.5 L1106.4 66.6 L1108.9 66.6 L1111.4 66.6 L1113.9 66.6 L1116.4 66.7 L1118.9 66.7 L1121.4 66.7 L1123.9 66.7 L1126.4 66.8 L1128.9 66.8 L1131.4 66.8 L1133.9 66.8 L1136.4 66.9" fill="none" stroke="#ee3584" stroke-width="3.8" stroke-linejoin="round"/>
<path d="M93.9 284.0 L96.4 284.1 L98.9 284.1 L101.4 284.2 L103.9 284.2 L106.4 284.3 L108.9 284.4 L111.4 284.4 L113.9 284.5 L116.4 284.5 L118.9 284.6 L121.4 284.7 L123.9 284.7 L126.4 284.8 L128.9 285.0 L131.4 285.2 L133.9 285.4 L136.4 285.6 L138.9 285.8 L141.4 286.0 L143.9 286.2 L146.4 286.4 L148.9 286.7 L151.4 286.9 L153.9 287.2 L156.4 287.5 L158.9 287.9 L161.4 288.3 L163.9 288.7 L166.4 289.0 L168.9 289.4 L171.4 289.8 L173.9 290.2 L176.4 290.5 L178.9 291.0 L181.4 291.4 L183.9 291.9 L186.4 292.3 L188.9 292.8 L191.4 293.2 L193.9 293.7 L196.4 294.2 L198.9 294.6 L201.4 295.1 L203.9 295.6 L206.4 296.1 L208.9 296.7 L211.4 297.2 L213.9 297.8 L216.4 298.3 L218.9 298.9 L221.4 299.4 L223.9 300.0 L226.4 300.5 L228.9 301.1 L231.4 301.7 L233.9 302.2 L236.4 302.8 L238.9 303.4 L241.4 304.0 L243.9 304.6 L246.4 305.1 L248.9 305.7 L251.4 306.3 L253.9 307.0 L256.4 307.8 L258.9 308.6 L261.4 309.5 L263.9 310.4 L266.4 311.3 L268.9 312.2 L271.4 313.0 L273.9 314.0 L276.4 314.9 L278.9 315.8 L281.4 316.7 L283.9 317.6 L286.4 318.6 L288.9 319.6 L291.4 320.7 L293.9 321.9 L296.4 323.0 L298.9 324.2 L301.4 325.4 L303.9 326.6 L306.4 327.9 L308.9 329.2 L311.4 330.5 L313.9 331.9 L316.4 333.2 L318.9 334.5 L321.4 335.8 L323.9 337.2 L326.4 338.4 L328.9 339.7 L331.4 341.0 L333.9 342.3 L336.4 343.5 L338.9 344.9 L341.4 346.3 L343.9 347.8 L346.4 349.3 L348.9 350.8 L351.4 352.3 L353.9 353.7 L356.4 355.2 L358.9 356.7 L361.4 358.2 L363.9 359.7 L366.4 361.2 L368.9 362.7 L371.4 364.2 L373.9 365.7 L376.4 367.3 L378.9 368.8 L381.4 370.3 L383.9 371.8 L386.4 373.3 L388.9 374.8 L391.4 376.3 L393.9 377.8 L396.4 379.3 L398.9 380.7 L401.4 382.2 L403.9 383.7 L406.4 385.2 L408.9 386.7 L411.4 388.2 L413.9 389.7 L416.4 391.2 L418.9 392.7 L421.4 394.2 L423.9 395.4 L426.4 396.6 L428.9 397.7 L431.4 399.1 L433.9 400.7 L436.4 402.4 L438.9 404.2 L441.4 406.0 L443.9 407.8 L446.4 409.5 L448.9 411.1 L451.4 412.5 L453.9 413.8 L456.4 415.1 L458.9 416.3 L461.4 417.5 L463.9 418.7 L466.4 419.9 L468.9 421.0 L471.4 422.1 L473.9 423.3 L476.4 424.4 L478.9 425.5 L481.4 426.6 L483.9 427.5 L486.4 428.1 L488.9 428.5 L491.4 429.0 L493.9 430.0 L496.4 431.3 L498.9 432.7 L501.4 434.2 L503.9 435.7 L506.4 437.1 L508.9 438.3 L511.4 439.0 L513.9 439.1 L516.4 439.0 L518.9 439.2 L521.4 439.7 L523.9 440.4 L526.4 441.1 L528.9 441.8 L531.4 442.5 L533.9 443.2 L536.4 444.0 L538.9 444.8 L541.4 445.5 L543.9 446.1 L546.4 446.4 L548.9 446.4 L551.4 446.2 L553.9 446.0 L556.4 446.0 L558.9 446.3 L561.4 446.9 L563.9 447.6 L566.4 448.4 L568.9 448.9 L571.4 449.1 L573.9 448.7 L576.4 447.6 L578.9 446.4 L581.4 445.5 L583.9 445.2 L586.4 445.4 L588.9 445.7 L591.4 445.9 L593.9 445.9 L596.4 445.8 L598.9 445.6 L601.4 445.5 L603.9 445.3 L606.4 445.3 L608.9 445.3 L611.4 445.3 L613.9 445.3 L616.4 444.8 L618.9 443.9 L621.4 442.6 L623.9 441.2 L626.4 439.7 L628.9 438.3 L631.4 437.2 L633.9 436.6 L636.4 436.2 L638.9 435.6 L641.4 434.2 L643.9 432.2 L646.4 430.3 L648.9 428.9 L651.4 428.0 L653.9 427.3 L656.4 426.4 L658.9 425.0 L661.4 423.4 L663.9 421.7 L666.4 420.0 L668.9 418.3 L671.4 416.7 L673.9 415.1 L676.4 413.6 L678.9 412.1 L681.4 410.6 L683.9 409.1 L686.4 407.5 L688.9 405.9 L691.4 404.3 L693.9 402.6 L696.4 400.9 L698.9 399.2 L701.4 397.5 L703.9 395.9 L706.4 394.1 L708.9 392.3 L711.4 390.2 L713.9 388.0 L716.4 385.7 L718.9 383.4 L721.4 381.1 L723.9 378.8 L726.4 376.5 L728.9 374.2 L731.4 372.0 L733.9 369.8 L736.4 367.7 L738.9 365.6 L741.4 363.5 L743.9 361.5 L746.4 359.4 L748.9 357.4 L751.4 355.4 L753.9 353.7 L756.4 352.1 L758.9 350.6 L761.4 349.1 L763.9 347.6 L766.4 346.0 L768.9 344.2 L771.4 342.2 L773.9 339.9 L776.4 337.5 L778.9 335.2 L781.4 332.8 L783.9 330.5 L786.4 328.4 L788.9 326.3 L791.4 324.3 L793.9 322.3 L796.4 320.3 L798.9 318.3 L801.4 316.4 L803.9 314.5 L806.4 312.8 L808.9 311.0 L811.4 309.2 L813.9 307.5 L816.4 305.8 L818.9 304.1 L821.4 302.5 L823.9 301.0 L826.4 299.5 L828.9 298.0 L831.4 296.5 L833.9 295.1 L836.4 293.8 L838.9 292.5 L841.4 291.4 L843.9 290.2 L846.4 289.1 L848.9 288.0 L851.4 286.9 L853.9 285.9 L856.4 285.0 L858.9 284.1 L861.4 283.2 L863.9 282.3 L866.4 281.5 L868.9 280.7 L871.4 279.9 L873.9 279.3 L876.4 278.6 L878.9 278.0 L881.4 277.4 L883.9 276.8 L886.4 276.2 L888.9 275.7 L891.4 275.2 L893.9 274.8 L896.4 274.3 L898.9 273.9 L901.4 273.4 L903.9 273.0 L906.4 272.6 L908.9 272.2 L911.4 271.8 L913.9 271.5 L916.4 271.1 L918.9 270.8 L921.4 270.4 L923.9 270.2 L926.4 269.9 L928.9 269.7 L931.4 269.4 L933.9 269.2 L936.4 268.9 L938.9 268.7 L941.4 268.5 L943.9 268.3 L946.4 268.2 L948.9 268.0 L951.4 267.8 L953.9 267.7 L956.4 267.5 L958.9 267.4 L961.4 267.3 L963.9 267.2 L966.4 267.0 L968.9 266.9 L971.4 266.8 L973.9 266.7 L976.4 266.6 L978.9 266.5 L981.4 266.4 L983.9 266.4 L986.4 266.3 L988.9 266.2 L991.4 266.2 L993.9 266.2 L996.4 266.1 L998.9 266.1 L1001.4 266.1 L1003.9 266.1 L1006.4 266.0 L1008.9 266.0 L1011.4 266.0 L1013.9 266.0 L1016.4 266.0 L1018.9 265.9 L1021.4 265.9 L1023.9 265.9 L1026.4 265.9 L1028.9 266.0 L1031.4 266.0 L1033.9 266.0 L1036.4 266.0 L1038.9 266.0 L1041.4 266.1 L1043.9 266.1 L1046.4 266.1 L1048.9 266.1 L1051.4 266.2 L1053.9 266.2 L1056.4 266.2 L1058.9 266.3 L1061.4 266.3 L1063.9 266.4 L1066.4 266.5 L1068.9 266.5 L1071.4 266.6 L1073.9 266.7 L1076.4 266.7 L1078.9 266.8 L1081.4 266.9 L1083.9 266.9 L1086.4 267.0 L1088.9 267.1 L1091.4 267.1 L1093.9 267.2 L1096.4 267.2 L1098.9 267.3 L1101.4 267.3 L1103.9 267.4 L1106.4 267.4 L1108.9 267.5 L1111.4 267.5 L1113.9 267.6 L1116.4 267.6 L1118.9 267.7 L1121.4 267.7 L1123.9 267.8 L1126.4 267.8 L1128.9 267.9 L1131.4 267.9 L1133.9 268.0 L1136.4 268.0" fill="none" stroke="#ee3584" stroke-width="3.8" stroke-linejoin="round"/>
<path d="M93.9 488.6 L96.4 488.7 L98.9 488.7 L101.4 488.8 L103.9 488.8 L106.4 488.9 L108.9 488.9 L111.4 489.0 L113.9 489.0 L116.4 489.1 L118.9 489.1 L121.4 489.2 L123.9 489.2 L126.4 489.3 L128.9 489.5 L131.4 489.7 L133.9 489.9 L136.4 490.1 L138.9 490.3 L141.4 490.5 L143.9 490.7 L146.4 490.9 L148.9 491.2 L151.4 491.4 L153.9 491.7 L156.4 492.0 L158.9 492.3 L161.4 492.7 L163.9 493.0 L166.4 493.3 L168.9 493.7 L171.4 494.0 L173.9 494.3 L176.4 494.7 L178.9 495.0 L181.4 495.4 L183.9 495.8 L186.4 496.3 L188.9 496.7 L191.4 497.1 L193.9 497.5 L196.4 497.9 L198.9 498.3 L201.4 498.8 L203.9 499.2 L206.4 499.7 L208.9 500.2 L211.4 500.8 L213.9 501.3 L216.4 501.8 L218.9 502.4 L221.4 502.9 L223.9 503.4 L226.4 503.9 L228.9 504.5 L231.4 505.0 L233.9 505.6 L236.4 506.1 L238.9 506.7 L241.4 507.2 L243.9 507.8 L246.4 508.3 L248.9 508.9 L251.4 509.5 L253.9 510.1 L256.4 510.7 L258.9 511.5 L261.4 512.2 L263.9 513.0 L266.4 513.7 L268.9 514.5 L271.4 515.3 L273.9 516.1 L276.4 517.0 L278.9 517.9 L281.4 518.8 L283.9 519.7 L286.4 520.6 L288.9 521.6 L291.4 522.6 L293.9 523.7 L296.4 524.8 L298.9 526.0 L301.4 527.1 L303.9 528.2 L306.4 529.4 L308.9 530.6 L311.4 531.9 L313.9 533.1 L316.4 534.3 L318.9 535.6 L321.4 536.8 L323.9 538.1 L326.4 539.3 L328.9 540.6 L331.4 541.8 L333.9 543.1 L336.4 544.4 L338.9 545.6 L341.4 547.0 L343.9 548.3 L346.4 549.7 L348.9 551.1 L351.4 552.5 L353.9 553.9 L356.4 555.3 L358.9 556.8 L361.4 558.2 L363.9 559.7 L366.4 561.2 L368.9 562.7 L371.4 564.2 L373.9 565.7 L376.4 567.3 L378.9 568.8 L381.4 570.3 L383.9 571.8 L386.4 573.3 L388.9 574.8 L391.4 576.3 L393.9 577.8 L396.4 579.3 L398.9 580.7 L401.4 582.2 L403.9 583.7 L406.4 585.1 L408.9 586.5 L411.4 587.8 L413.9 589.0 L416.4 590.3 L418.9 591.5 L421.4 592.7 L423.9 593.7 L426.4 594.6 L428.9 595.6 L431.4 596.7 L433.9 598.2 L436.4 599.8 L438.9 601.5 L441.4 603.1 L443.9 604.8 L446.4 606.3 L448.9 607.7 L451.4 609.0 L453.9 610.3 L456.4 611.5 L458.9 612.8 L461.4 614.1 L463.9 615.3 L466.4 616.6 L468.9 617.9 L471.4 619.2 L473.9 620.5 L476.4 621.8 L478.9 623.1 L481.4 624.4 L483.9 625.5 L486.4 626.1 L488.9 626.5 L491.4 627.0 L493.9 627.9 L496.4 629.2 L498.9 630.7 L501.4 632.3 L503.9 633.8 L506.4 635.2 L508.9 636.5 L511.4 637.2 L513.9 637.4 L516.4 637.5 L518.9 637.9 L521.4 638.6 L523.9 639.6 L526.4 640.5 L528.9 641.4 L531.4 642.4 L533.9 643.3 L536.4 644.3 L538.9 645.3 L541.4 646.2 L543.9 647.0 L546.4 647.5 L548.9 647.6 L551.4 647.6 L553.9 647.7 L556.4 647.9 L558.9 648.4 L561.4 649.1 L563.9 650.0 L566.4 650.9 L568.9 651.7 L571.4 652.0 L573.9 651.5 L576.4 650.4 L578.9 649.1 L581.4 648.1 L583.9 647.9 L586.4 648.2 L588.9 648.6 L591.4 648.8 L593.9 648.8 L596.4 648.5 L598.9 648.3 L601.4 648.1 L603.9 647.9 L606.4 647.8 L608.9 647.7 L611.4 647.9 L613.9 647.8 L616.4 647.5 L618.9 646.5 L621.4 645.1 L623.9 643.6 L626.4 642.0 L628.9 640.5 L631.4 639.3 L633.9 638.5 L636.4 638.0 L638.9 637.1 L641.4 635.5 L643.9 633.4 L646.4 631.3 L648.9 629.8 L651.4 628.9 L653.9 628.2 L656.4 627.3 L658.9 625.9 L661.4 624.3 L663.9 622.5 L666.4 620.8 L668.9 619.0 L671.4 617.2 L673.9 615.4 L676.4 613.5 L678.9 611.6 L681.4 609.7 L683.9 607.8 L686.4 605.9 L688.9 603.9 L691.4 602.0 L693.9 600.0 L696.4 597.9 L698.9 595.9 L701.4 593.9 L703.9 591.9 L706.4 589.9 L708.9 587.8 L711.4 585.7 L713.9 583.5 L716.4 581.3 L718.9 579.1 L721.4 576.9 L723.9 574.6 L726.4 572.4 L728.9 570.2 L731.4 568.0 L733.9 565.8 L736.4 563.6 L738.9 561.4 L741.4 559.3 L743.9 557.1 L746.4 554.9 L748.9 552.8 L751.4 550.7 L753.9 548.9 L756.4 547.2 L758.9 545.5 L761.4 543.9 L763.9 542.3 L766.4 540.6 L768.9 538.8 L771.4 536.9 L773.9 534.8 L776.4 532.7 L778.9 530.6 L781.4 528.5 L783.9 526.6 L786.4 524.7 L788.9 522.9 L791.4 521.2 L793.9 519.5 L796.4 517.9 L798.9 516.2 L801.4 514.6 L803.9 513.1 L806.4 511.6 L808.9 510.2 L811.4 508.7 L813.9 507.3 L816.4 505.8 L818.9 504.4 L821.4 503.0 L823.9 501.6 L826.4 500.3 L828.9 498.9 L831.4 497.5 L833.9 496.2 L836.4 494.9 L838.9 493.7 L841.4 492.6 L843.9 491.4 L846.4 490.3 L848.9 489.2 L851.4 488.1 L853.9 487.1 L856.4 486.3 L858.9 485.5 L861.4 484.7 L863.9 483.9 L866.4 483.1 L868.9 482.3 L871.4 481.7 L873.9 481.0 L876.4 480.5 L878.9 479.9 L881.4 479.3 L883.9 478.7 L886.4 478.2 L888.9 477.7 L891.4 477.3 L893.9 476.9 L896.4 476.4 L898.9 476.0 L901.4 475.6 L903.9 475.2 L906.4 474.8 L908.9 474.5 L911.4 474.2 L913.9 473.9 L916.4 473.5 L918.9 473.2 L921.4 472.9 L923.9 472.7 L926.4 472.4 L928.9 472.2 L931.4 471.9 L933.9 471.7 L936.4 471.4 L938.9 471.2 L941.4 471.1 L943.9 470.9 L946.4 470.7 L948.9 470.6 L951.4 470.4 L953.9 470.2 L956.4 470.1 L958.9 470.0 L961.4 469.8 L963.9 469.7 L966.4 469.6 L968.9 469.4 L971.4 469.3 L973.9 469.2 L976.4 469.1 L978.9 469.1 L981.4 469.0 L983.9 468.9 L986.4 468.9 L988.9 468.8 L991.4 468.8 L993.9 468.7 L996.4 468.7 L998.9 468.7 L1001.4 468.6 L1003.9 468.6 L1006.4 468.6 L1008.9 468.6 L1011.4 468.7 L1013.9 468.7 L1016.4 468.7 L1018.9 468.8 L1021.4 468.8 L1023.9 468.8 L1026.4 468.9 L1028.9 468.9 L1031.4 469.0 L1033.9 469.0 L1036.4 469.1 L1038.9 469.1 L1041.4 469.2 L1043.9 469.2 L1046.4 469.3 L1048.9 469.4 L1051.4 469.4 L1053.9 469.5 L1056.4 469.5 L1058.9 469.6 L1061.4 469.7 L1063.9 469.7 L1066.4 469.8 L1068.9 469.9 L1071.4 470.0 L1073.9 470.0 L1076.4 470.1 L1078.9 470.2 L1081.4 470.2 L1083.9 470.3 L1086.4 470.4 L1088.9 470.5 L1091.4 470.5 L1093.9 470.6 L1096.4 470.7 L1098.9 470.7 L1101.4 470.8 L1103.9 470.9 L1106.4 470.9 L1108.9 471.0 L1111.4 471.1 L1113.9 471.1 L1116.4 471.2 L1118.9 471.3 L1121.4 471.3 L1123.9 471.4 L1126.4 471.5 L1128.9 471.5 L1131.4 471.6 L1133.9 471.7 L1136.4 471.7" fill="none" stroke="#ee3584" stroke-width="3.8" stroke-linejoin="round"/>
<path d="M93.9 685.5 L96.4 685.5 L98.9 685.5 L101.4 685.6 L103.9 685.6 L106.4 685.6 L108.9 685.6 L111.4 685.7 L113.9 685.7 L116.4 685.7 L118.9 685.7 L121.4 685.7 L123.9 685.8 L126.4 685.8 L128.9 685.9 L131.4 686.1 L133.9 686.2 L136.4 686.4 L138.9 686.6 L141.4 686.7 L143.9 686.9 L146.4 687.1 L148.9 687.2 L151.4 687.4 L153.9 687.6 L156.4 687.9 L158.9 688.1 L161.4 688.4 L163.9 688.7 L166.4 688.9 L168.9 689.2 L171.4 689.5 L173.9 689.7 L176.4 690.0 L178.9 690.3 L181.4 690.7 L183.9 691.0 L186.4 691.4 L188.9 691.8 L191.4 692.1 L193.9 692.5 L196.4 692.9 L198.9 693.2 L201.4 693.6 L203.9 694.0 L206.4 694.4 L208.9 694.9 L211.4 695.4 L213.9 695.8 L216.4 696.3 L218.9 696.8 L221.4 697.3 L223.9 697.7 L226.4 698.2 L228.9 698.7 L231.4 699.2 L233.9 699.7 L236.4 700.3 L238.9 700.8 L241.4 701.3 L243.9 701.9 L246.4 702.4 L248.9 702.9 L251.4 703.5 L253.9 704.1 L256.4 704.7 L258.9 705.5 L261.4 706.2 L263.9 707.0 L266.4 707.7 L268.9 708.5 L271.4 709.2 L273.9 710.0 L276.4 710.7 L278.9 711.5 L281.4 712.2 L283.9 713.0 L286.4 713.8 L288.9 714.6 L291.4 715.5 L293.9 716.5 L296.4 717.5 L298.9 718.5 L301.4 719.5 L303.9 720.5 L306.4 721.6 L308.9 722.7 L311.4 723.8 L313.9 724.9 L316.4 726.1 L318.9 727.2 L321.4 728.3 L323.9 729.5 L326.4 730.6 L328.9 731.7 L331.4 732.8 L333.9 734.0 L336.4 735.0 L338.9 735.9 L341.4 736.5 L343.9 736.9 L346.4 737.5 L348.9 738.2 L351.4 739.2 L353.9 740.3 L356.4 741.4 L358.9 742.6 L361.4 743.8 L363.9 745.1 L366.4 746.5 L368.9 748.0 L371.4 749.4 L373.9 750.9 L376.4 752.4 L378.9 753.8 L381.4 755.2 L383.9 756.5 L386.4 757.8 L388.9 759.0 L391.4 760.3 L393.9 761.6 L396.4 762.9 L398.9 764.2 L401.4 765.6 L403.9 767.1 L406.4 768.6 L408.9 770.1 L411.4 771.5 L413.9 773.0 L416.4 774.4 L418.9 775.7 L421.4 777.0 L423.9 778.2 L426.4 779.5 L428.9 780.8 L431.4 782.2 L433.9 783.6 L436.4 785.2 L438.9 786.8 L441.4 788.4 L443.9 790.1 L446.4 791.6 L448.9 793.2 L451.4 794.6 L453.9 796.0 L456.4 797.4 L458.9 798.8 L461.4 800.1 L463.9 801.5 L466.4 802.8 L468.9 804.1 L471.4 805.3 L473.9 806.6 L476.4 807.8 L478.9 809.1 L481.4 810.5 L483.9 811.9 L486.4 813.4 L488.9 814.7 L491.4 815.9 L493.9 817.0 L496.4 818.1 L498.9 819.3 L501.4 820.6 L503.9 821.9 L506.4 823.3 L508.9 824.7 L511.4 825.8 L513.9 826.7 L516.4 827.1 L518.9 827.4 L521.4 827.6 L523.9 828.0 L526.4 828.7 L528.9 829.7 L531.4 830.7 L533.9 831.8 L536.4 832.9 L538.9 834.1 L541.4 835.1 L543.9 836.0 L546.4 836.6 L548.9 836.9 L551.4 837.0 L553.9 837.1 L556.4 837.2 L558.9 837.6 L561.4 838.1 L563.9 838.8 L566.4 839.6 L568.9 840.2 L571.4 840.5 L573.9 840.1 L576.4 839.2 L578.9 838.2 L581.4 837.3 L583.9 837.0 L586.4 837.0 L588.9 837.1 L591.4 837.0 L593.9 836.7 L596.4 836.3 L598.9 835.8 L601.4 835.4 L603.9 834.9 L606.4 834.4 L608.9 833.9 L611.4 833.4 L613.9 832.7 L616.4 831.8 L618.9 830.5 L621.4 828.9 L623.9 827.1 L626.4 825.4 L628.9 823.8 L631.4 822.5 L633.9 821.6 L636.4 820.8 L638.9 819.9 L641.4 818.6 L643.9 816.8 L646.4 814.7 L648.9 812.7 L651.4 811.0 L653.9 809.4 L656.4 807.9 L658.9 806.5 L661.4 804.8 L663.9 803.1 L666.4 801.2 L668.9 799.4 L671.4 797.5 L673.9 795.6 L676.4 793.7 L678.9 791.6 L681.4 789.5 L683.9 787.4 L686.4 785.2 L688.9 783.1 L691.4 781.1 L693.9 779.1 L696.4 777.2 L698.9 775.2 L701.4 773.3 L703.9 771.4 L706.4 769.4 L708.9 767.5 L711.4 765.6 L713.9 763.7 L716.4 761.8 L718.9 759.8 L721.4 757.8 L723.9 755.7 L726.4 753.5 L728.9 751.4 L731.4 749.3 L733.9 747.2 L736.4 745.0 L738.9 742.9 L741.4 740.8 L743.9 738.7 L746.4 736.6 L748.9 734.6 L751.4 732.7 L753.9 730.8 L756.4 728.9 L758.9 727.1 L761.4 725.2 L763.9 723.3 L766.4 721.5 L768.9 719.6 L771.4 717.8 L773.9 716.0 L776.4 714.4 L778.9 713.1 L781.4 711.8 L783.9 710.6 L786.4 709.3 L788.9 707.8 L791.4 706.3 L793.9 704.8 L796.4 703.3 L798.9 701.8 L801.4 700.4 L803.9 698.9 L806.4 697.5 L808.9 696.2 L811.4 694.8 L813.9 693.4 L816.4 692.1 L818.9 690.8 L821.4 689.6 L823.9 688.5 L826.4 687.3 L828.9 686.2 L831.4 685.1 L833.9 684.0 L836.4 683.0 L838.9 682.0 L841.4 681.2 L843.9 680.3 L846.4 679.4 L848.9 678.6 L851.4 677.7 L853.9 676.9 L856.4 676.2 L858.9 675.5 L861.4 674.8 L863.9 674.0 L866.4 673.4 L868.9 672.7 L871.4 672.1 L873.9 671.6 L876.4 671.1 L878.9 670.5 L881.4 670.0 L883.9 669.6 L886.4 669.1 L888.9 668.6 L891.4 668.2 L893.9 667.8 L896.4 667.4 L898.9 667.0 L901.4 666.6 L903.9 666.2 L906.4 665.9 L908.9 665.7 L911.4 665.4 L913.9 665.2 L916.4 664.9 L918.9 664.7 L921.4 664.4 L923.9 664.2 L926.4 663.9 L928.9 663.7 L931.4 663.4 L933.9 663.2 L936.4 662.9 L938.9 662.8 L941.4 662.6 L943.9 662.5 L946.4 662.3 L948.9 662.2 L951.4 662.1 L953.9 661.9 L956.4 661.8 L958.9 661.7 L961.4 661.6 L963.9 661.5 L966.4 661.4 L968.9 661.3 L971.4 661.2 L973.9 661.2 L976.4 661.1 L978.9 661.1 L981.4 661.0 L983.9 661.0 L986.4 660.9 L988.9 660.9 L991.4 660.9 L993.9 660.8 L996.4 660.8 L998.9 660.8 L1001.4 660.7 L1003.9 660.7 L1006.4 660.8 L1008.9 660.8 L1011.4 660.8 L1013.9 660.9 L1016.4 661.0 L1018.9 661.0 L1021.4 661.1 L1023.9 661.2 L1026.4 661.3 L1028.9 661.3 L1031.4 661.4 L1033.9 661.5 L1036.4 661.6 L1038.9 661.7 L1041.4 661.8 L1043.9 661.9 L1046.4 662.0 L1048.9 662.0 L1051.4 662.1 L1053.9 662.2 L1056.4 662.3 L1058.9 662.4 L1061.4 662.5 L1063.9 662.6 L1066.4 662.7 L1068.9 662.8 L1071.4 662.9 L1073.9 663.0 L1076.4 663.1 L1078.9 663.2 L1081.4 663.3 L1083.9 663.4 L1086.4 663.5 L1088.9 663.6 L1091.4 663.7 L1093.9 663.8 L1096.4 663.9 L1098.9 664.0 L1101.4 664.1 L1103.9 664.2 L1106.4 664.3 L1108.9 664.4 L1111.4 664.5 L1113.9 664.6 L1116.4 664.7 L1118.9 664.8 L1121.4 664.9 L1123.9 665.0 L1126.4 665.1 L1128.9 665.2 L1131.4 665.3 L1133.9 665.4 L1136.4 665.5" fill="none" stroke="#ee3584" stroke-width="3.8" stroke-linejoin="round"/>
</g>
<rect x="93.9" y="62.1" width="1044.9" height="789.2" fill="none" stroke="#000" stroke-width="2.6"/>
<line x1="168.0" y1="851.3" x2="168.0" y2="862.9" stroke="#000" stroke-width="2.5"/>
<line x1="317.3" y1="851.3" x2="317.3" y2="862.9" stroke="#000" stroke-width="2.5"/>
<line x1="466.6" y1="851.3" x2="466.6" y2="862.9" stroke="#000" stroke-width="2.5"/>
<line x1="615.9" y1="851.3" x2="615.9" y2="862.9" stroke="#000" stroke-width="2.5"/>
<line x1="765.2" y1="851.3" x2="765.2" y2="862.9" stroke="#000" stroke-width="2.5"/>
<line x1="914.5" y1="851.3" x2="914.5" y2="862.9" stroke="#000" stroke-width="2.5"/>
<line x1="1063.8" y1="851.3" x2="1063.8" y2="862.9" stroke="#000" stroke-width="2.5"/>
</g>
<g id="panel-b">
<clipPath id="clipB"><rect x="1350.7" y="62.5" width="768.6" height="789.5"/></clipPath>
<g clip-path="url(#clipB)">
<path d="M1350.6 687.1 L1352.4 485.4 L1354.5 394.6 L1355.8 534.6 L1357.6 407.0 L1359.1 542.1 L1360.9 448.7 L1362.4 631.3 L1364.0 640.0 L1365.4 521.9 L1367.1 607.1 L1368.7 416.0 L1370.4 640.0 L1371.8 472.7 L1373.6 401.9 L1375.0 457.4 L1376.7 327.6 L1378.4 471.3 L1380.0 690.1 L1381.4 584.8 L1383.1 841.9 L1384.7 618.8 L1386.4 778.1 L1387.8 704.7 L1389.4 795.3 L1391.1 820.7 L1392.7 756.5 L1394.1 834.8 L1395.8 628.7 L1397.6 768.2 L1399.3 644.7 L1400.7 621.2 L1402.4 723.1 L1404.0 675.3 L1405.6 639.5 L1407.1 582.1 L1408.8 428.9 L1410.6 479.7 L1412.0 330.0 L1413.5 287.6 L1415.3 382.4 L1416.7 217.4 L1418.6 287.1 L1420.0 202.9 L1421.5 517.4 L1423.3 508.2 L1424.7 597.2 L1425.9 652.5 L1428.2 566.1 L1429.4 650.6 L1431.3 625.4 L1432.9 703.5 L1434.4 730.6 L1435.8 554.5 L1437.2 766.6 L1439.3 660.7 L1440.5 746.6 L1442.4 765.9 L1444.0 772.2 L1445.6 744.0 L1447.1 648.9 L1448.7 552.4 L1450.5 568.2 L1452.0 407.3 L1453.4 428.0 L1455.1 422.1 L1456.8 466.9 L1458.3 409.1 L1460.0 551.7 L1461.7 521.7 L1462.8 572.9 L1464.5 506.8 L1466.4 585.5 L1468.1 523.5 L1469.6 552.4 L1471.3 544.7 L1472.7 550.6 L1474.4 475.8 L1475.8 461.4 L1477.2 425.4 L1479.1 425.4 L1480.8 454.6 L1482.3 473.7 L1483.7 484.0 L1485.4 378.4 L1487.1 411.3 L1488.4 291.2 L1490.3 404.5 L1492.0 289.5 L1493.4 365.5 L1495.1 267.2 L1496.8 313.3 L1498.3 321.3 L1500.0 343.2 L1501.7 436.7 L1503.1 480.0 L1504.8 559.8 L1506.3 600.5 L1507.8 612.2 L1509.4 661.2 L1511.1 539.7 L1512.9 618.8 L1514.4 529.0 L1515.8 555.3 L1517.6 519.3 L1519.3 541.4 L1521.0 505.4 L1522.6 475.4 L1524.0 457.1 L1525.7 453.9 L1527.1 404.5 L1528.9 431.6 L1530.3 421.4 L1531.8 328.6 L1533.2 346.3 L1535.3 284.6 L1536.7 359.4 L1538.4 262.3 L1539.8 354.5 L1541.4 329.1 L1543.0 454.3 L1544.7 440.2 L1546.4 536.5 L1548.0 493.4 L1549.7 577.4 L1551.1 474.6 L1552.8 551.6 L1554.3 496.5 L1555.8 359.7 L1557.7 404.9 L1559.3 251.1 L1560.7 370.0 L1562.4 292.8 L1564.1 437.2 L1565.5 401.9 L1567.3 515.6 L1569.0 431.6 L1570.4 567.5 L1572.0 485.7 L1573.7 530.5 L1575.1 394.6 L1576.9 408.0 L1578.6 373.0 L1580.4 407.6 L1581.7 520.9 L1583.1 501.5 L1585.2 596.5 L1586.4 629.4 L1588.2 605.9 L1589.6 527.6 L1591.3 456.7 L1592.8 289.1 L1594.3 221.3 L1596.0 110.2 L1597.6 115.3 L1599.3 55.0 L1600.7 120.0 L1602.4 108.2 L1603.8 223.6 L1605.5 205.1 L1607.0 285.3 L1608.7 269.8 L1610.4 277.5 L1611.8 306.5 L1613.7 201.3 L1615.4 281.3 L1616.9 246.1 L1618.1 416.0 L1620.2 434.5 L1621.7 567.5 L1623.1 553.0 L1624.7 608.7 L1626.6 551.6 L1628.0 583.1 L1629.7 490.2 L1631.5 457.8 L1632.7 340.8 L1634.4 278.2 L1636.2 281.3 L1637.7 202.0 L1639.1 308.6 L1640.8 298.4 L1642.3 350.2 L1643.7 331.5 L1645.2 405.6 L1647.5 334.0 L1649.1 409.4 L1650.4 323.4 L1651.8 365.1 L1653.5 271.9 L1655.0 279.7 L1657.1 281.3 L1658.4 261.0 L1659.8 267.2 L1661.7 266.7 L1663.1 274.7 L1664.5 285.7 L1666.3 336.1 L1667.9 332.0 L1669.4 287.0 L1671.1 260.6 L1672.7 187.6 L1674.4 164.6 L1676.1 206.2 L1677.6 277.3 L1679.0 342.8 L1680.8 433.7 L1682.5 484.2 L1684.1 535.1 L1685.8 548.0 L1687.4 562.0 L1688.9 540.0 L1690.4 508.7 L1692.1 454.6 L1693.8 376.7 L1695.2 396.7 L1696.8 342.4 L1698.5 353.4 L1700.2 306.4 L1702.0 310.8 L1703.3 240.1 L1705.0 246.2 L1706.4 225.7 L1707.5 179.7 L1709.2 174.0 L1711.1 175.9 L1712.8 172.4 L1714.3 175.2 L1716.0 170.0 L1717.7 201.7 L1719.3 286.0 L1721.0 319.8 L1722.5 415.1 L1724.2 447.5 L1725.7 487.1 L1727.1 483.5 L1728.8 484.2 L1730.2 493.7 L1732.1 467.3 L1733.8 424.9 L1735.2 409.0 L1736.9 366.8 L1738.4 374.1 L1740.1 372.0 L1741.5 381.6 L1743.4 358.9 L1745.1 328.9 L1746.5 310.6 L1748.0 253.8 L1749.6 263.4 L1751.1 187.8 L1752.8 195.9 L1754.3 168.6 L1756.0 166.9 L1757.7 190.9 L1759.2 184.3 L1760.9 198.7 L1762.4 217.1 L1764.0 212.8 L1765.5 230.5 L1767.3 266.5 L1769.0 230.2 L1770.5 251.9 L1772.2 214.2 L1773.6 234.3 L1775.3 181.8 L1776.9 184.9 L1778.6 197.3 L1780.0 215.9 L1781.7 212.1 L1783.3 276.0 L1784.9 285.8 L1786.4 278.1 L1788.1 290.8 L1789.5 319.8 L1791.3 313.1 L1792.7 277.1 L1794.4 290.5 L1796.0 286.7 L1797.7 318.0 L1799.1 360.0 L1800.8 382.9 L1802.5 373.4 L1804.1 388.0 L1805.8 371.7 L1807.5 357.9 L1808.9 340.9 L1810.5 323.0 L1812.2 312.4 L1813.6 270.7 L1815.3 222.3 L1816.7 161.6 L1818.4 130.7 L1820.2 97.1 L1821.9 138.7 L1823.5 132.4 L1824.9 177.8 L1826.6 218.8 L1828.0 229.8 L1829.7 274.5 L1831.5 270.7 L1832.9 247.1 L1834.6 238.5 L1836.5 238.2 L1837.9 224.1 L1839.3 265.8 L1841.0 284.8 L1842.5 325.5 L1844.2 352.9 L1845.7 352.2 L1847.1 380.9 L1848.8 338.1 L1850.6 267.2 L1852.0 212.8 L1853.4 191.7 L1855.1 180.6 L1856.7 173.3 L1858.4 167.7 L1860.0 202.9 L1861.6 218.2 L1863.3 193.1 L1864.7 250.9 L1866.4 297.3 L1868.0 309.5 L1869.7 281.3 L1871.3 249.1 L1872.9 257.3 L1874.6 225.5 L1876.0 247.4 L1877.7 243.2 L1879.3 269.3 L1880.9 261.5 L1882.4 236.1 L1884.1 237.5 L1885.6 239.7 L1887.3 243.2 L1888.7 238.5 L1890.4 223.1 L1892.0 187.1 L1893.4 148.2 L1895.1 147.2 L1896.8 150.7 L1898.6 153.8 L1900.0 190.9 L1901.7 219.9 L1903.3 260.8 L1904.9 315.6 L1906.4 338.8 L1908.1 337.4 L1909.8 320.0 L1911.3 305.0 L1913.0 266.8 L1914.4 217.5 L1916.0 207.5 L1917.7 206.5 L1919.1 203.4 L1920.8 205.8 L1922.6 228.4 L1923.7 258.4 L1925.4 244.9 L1927.1 261.3 L1928.7 217.8 L1930.4 214.9 L1931.8 164.4 L1933.6 133.5 L1935.0 163.8 L1937.0 151.7 L1938.6 159.2 L1940.2 191.7 L1941.7 257.3 L1943.4 266.2 L1944.9 270.4 L1946.6 290.5 L1948.3 281.7 L1949.8 274.5 L1951.1 202.2 L1952.9 163.8 L1954.4 123.9 L1956.2 124.6 L1957.9 143.7 L1959.3 158.2 L1961.0 229.8 L1962.6 200.1 L1964.2 198.0 L1965.7 226.2 L1967.1 257.3 L1968.8 215.2 L1970.3 269.3 L1972.0 211.7 L1973.7 214.9 L1975.3 229.8 L1977.0 262.2 L1978.4 279.5 L1980.1 294.0 L1981.6 315.9 L1983.0 302.5 L1984.7 328.6 L1986.4 306.4 L1988.0 279.9 L1989.7 267.6 L1991.1 190.0 L1992.8 218.5 L1994.3 175.8 L1996.0 149.3 L1997.7 130.9 L1999.5 146.5 L2001.2 150.0 L2002.4 184.3 L2004.1 206.5 L2005.5 214.7 L2007.0 197.7 L2008.7 216.1 L2010.4 190.7 L2012.0 207.2 L2013.7 214.2 L2015.1 178.7 L2017.0 218.5 L2018.7 199.3 L2020.0 253.0 L2021.7 259.9 L2023.5 292.2 L2025.2 280.2 L2026.5 299.8 L2028.2 303.7 L2029.7 310.7 L2031.1 249.9 L2032.8 243.7 L2034.6 211.1 L2036.4 216.4 L2037.6 197.0 L2039.4 174.0 L2041.1 196.4 L2042.5 161.3 L2044.1 237.5 L2045.9 175.4 L2047.6 193.8 L2049.1 177.6 L2050.5 207.5 L2052.2 169.3 L2053.5 128.7 L2055.2 144.4 L2057.0 130.5 L2058.8 170.0 L2060.2 181.6 L2061.8 190.8 L2063.5 215.5 L2064.9 175.4 L2066.3 246.0 L2067.9 254.8 L2069.7 252.5 L2071.5 234.9 L2073.2 224.8 L2074.6 186.7 L2076.0 210.7 L2077.8 180.2 L2079.6 205.8 L2081.2 202.6 L2082.9 220.2 L2084.3 256.6 L2085.7 261.9 L2087.5 295.2 L2089.1 251.6 L2090.9 264.9 L2092.3 302.8 L2094.0 239.3 L2095.8 237.2 L2097.0 216.7 L2098.4 237.5 L2099.9 212.8 L2101.6 224.3 L2103.4 270.7 L2105.0 241.1 L2106.7 251.1 L2108.5 223.4 L2109.9 193.4 L2111.3 174.0 L2113.1 126.9 L2114.3 115.3 L2116.1 95.9 L2117.8 112.3 L2119.6 121.1" fill="none" stroke="#111" stroke-width="0.9" stroke-linejoin="round"/>
<path d="M1350.6 687.1h0M1352.4 485.4h0M1354.5 394.6h0M1355.8 534.6h0M1357.6 407.0h0M1359.1 542.1h0M1360.9 448.7h0M1362.4 631.3h0M1364.0 640.0h0M1365.4 521.9h0M1367.1 607.1h0M1368.7 416.0h0M1370.4 640.0h0M1371.8 472.7h0M1373.6 401.9h0M1375.0 457.4h0M1376.7 327.6h0M1378.4 471.3h0M1380.0 690.1h0M1381.4 584.8h0M1383.1 841.9h0M1384.7 618.8h0M1386.4 778.1h0M1387.8 704.7h0M1389.4 795.3h0M1391.1 820.7h0M1392.7 756.5h0M1394.1 834.8h0M1395.8 628.7h0M1397.6 768.2h0M1399.3 644.7h0M1400.7 621.2h0M1402.4 723.1h0M1404.0 675.3h0M1405.6 639.5h0M1407.1 582.1h0M1408.8 428.9h0M1410.6 479.7h0M1412.0 330.0h0M1413.5 287.6h0M1415.3 382.4h0M1416.7 217.4h0M1418.6 287.1h0M1420.0 202.9h0M1421.5 517.4h0M1423.3 508.2h0M1424.7 597.2h0M1425.9 652.5h0M1428.2 566.1h0M1429.4 650.6h0M1431.3 625.4h0M1432.9 703.5h0M1434.4 730.6h0M1435.8 554.5h0M1437.2 766.6h0M1439.3 660.7h0M1440.5 746.6h0M1442.4 765.9h0M1444.0 772.2h0M1445.6 744.0h0M1447.1 648.9h0M1448.7 552.4h0M1450.5 568.2h0M1452.0 407.3h0M1453.4 428.0h0M1455.1 422.1h0M1456.8 466.9h0M1458.3 409.1h0M1460.0 551.7h0M1461.7 521.7h0M1462.8 572.9h0M1464.5 506.8h0M1466.4 585.5h0M1468.1 523.5h0M1469.6 552.4h0M1471.3 544.7h0M1472.7 550.6h0M1474.4 475.8h0M1475.8 461.4h0M1477.2 425.4h0M1479.1 425.4h0M1480.8 454.6h0M1482.3 473.7h0M1483.7 484.0h0M1485.4 378.4h0M1487.1 411.3h0M1488.4 291.2h0M1490.3 404.5h0M1492.0 289.5h0M1493.4 365.5h0M1495.1 267.2h0M1496.8 313.3h0M1498.3 321.3h0M1500.0 343.2h0M1501.7 436.7h0M1503.1 480.0h0M1504.8 559.8h0M1506.3 600.5h0M1507.8 612.2h0M1509.4 661.2h0M1511.1 539.7h0M1512.9 618.8h0M1514.4 529.0h0M1515.8 555.3h0M1517.6 519.3h0M1519.3 541.4h0M1521.0 505.4h0M1522.6 475.4h0M1524.0 457.1h0M1525.7 453.9h0M1527.1 404.5h0M1528.9 431.6h0M1530.3 421.4h0M1531.8 328.6h0M1533.2 346.3h0M1535.3 284.6h0M1536.7 359.4h0M1538.4 262.3h0M1539.8 354.5h0M1541.4 329.1h0M1543.0 454.3h0M1544.7 440.2h0M1546.4 536.5h0M1548.0 493.4h0M1549.7 577.4h0M1551.1 474.6h0M1552.8 551.6h0M1554.3 496.5h0M1555.8 359.7h0M1557.7 404.9h0M1559.3 251.1h0M1560.7 370.0h0M1562.4 292.8h0M1564.1 437.2h0M1565.5 401.9h0M1567.3 515.6h0M1569.0 431.6h0M1570.4 567.5h0M1572.0 485.7h0M1573.7 530.5h0M1575.1 394.6h0M1576.9 408.0h0M1578.6 373.0h0M1580.4 407.6h0M1581.7 520.9h0M1583.1 501.5h0M1585.2 596.5h0M1586.4 629.4h0M1588.2 605.9h0M1589.6 527.6h0M1591.3 456.7h0M1592.8 289.1h0M1594.3 221.3h0M1596.0 110.2h0M1597.6 115.3h0M1599.3 55.0h0M1600.7 120.0h0M1602.4 108.2h0M1603.8 223.6h0M1605.5 205.1h0M1607.0 285.3h0M1608.7 269.8h0M1610.4 277.5h0M1611.8 306.5h0M1613.7 201.3h0M1615.4 281.3h0M1616.9 246.1h0M1618.1 416.0h0M1620.2 434.5h0M1621.7 567.5h0M1623.1 553.0h0M1624.7 608.7h0M1626.6 551.6h0M1628.0 583.1h0M1629.7 490.2h0M1631.5 457.8h0M1632.7 340.8h0M1634.4 278.2h0M1636.2 281.3h0M1637.7 202.0h0M1639.1 308.6h0M1640.8 298.4h0M1642.3 350.2h0M1643.7 331.5h0M1645.2 405.6h0M1647.5 334.0h0M1649.1 409.4h0M1650.4 323.4h0M1651.8 365.1h0M1653.5 271.9h0M1655.0 279.7h0M1657.1 281.3h0M1658.4 261.0h0M1659.8 267.2h0M1661.7 266.7h0M1663.1 274.7h0M1664.5 285.7h0M1666.3 336.1h0M1667.9 332.0h0M1669.4 287.0h0M1671.1 260.6h0M1672.7 187.6h0M1674.4 164.6h0M1676.1 206.2h0M1677.6 277.3h0M1679.0 342.8h0M1680.8 433.7h0M1682.5 484.2h0M1684.1 535.1h0M1685.8 548.0h0M1687.4 562.0h0M1688.9 540.0h0M1690.4 508.7h0M1692.1 454.6h0M1693.8 376.7h0M1695.2 396.7h0M1696.8 342.4h0M1698.5 353.4h0M1700.2 306.4h0M1702.0 310.8h0M1703.3 240.1h0M1705.0 246.2h0M1706.4 225.7h0M1707.5 179.7h0M1709.2 174.0h0M1711.1 175.9h0M1712.8 172.4h0M1714.3 175.2h0M1716.0 170.0h0M1717.7 201.7h0M1719.3 286.0h0M1721.0 319.8h0M1722.5 415.1h0M1724.2 447.5h0M1725.7 487.1h0M1727.1 483.5h0M1728.8 484.2h0M1730.2 493.7h0M1732.1 467.3h0M1733.8 424.9h0M1735.2 409.0h0M1736.9 366.8h0M1738.4 374.1h0M1740.1 372.0h0M1741.5 381.6h0M1743.4 358.9h0M1745.1 328.9h0M1746.5 310.6h0M1748.0 253.8h0M1749.6 263.4h0M1751.1 187.8h0M1752.8 195.9h0M1754.3 168.6h0M1756.0 166.9h0M1757.7 190.9h0M1759.2 184.3h0M1760.9 198.7h0M1762.4 217.1h0M1764.0 212.8h0M1765.5 230.5h0M1767.3 266.5h0M1769.0 230.2h0M1770.5 251.9h0M1772.2 214.2h0M1773.6 234.3h0M1775.3 181.8h0M1776.9 184.9h0M1778.6 197.3h0M1780.0 215.9h0M1781.7 212.1h0M1783.3 276.0h0M1784.9 285.8h0M1786.4 278.1h0M1788.1 290.8h0M1789.5 319.8h0M1791.3 313.1h0M1792.7 277.1h0M1794.4 290.5h0M1796.0 286.7h0M1797.7 318.0h0M1799.1 360.0h0M1800.8 382.9h0M1802.5 373.4h0M1804.1 388.0h0M1805.8 371.7h0M1807.5 357.9h0M1808.9 340.9h0M1810.5 323.0h0M1812.2 312.4h0M1813.6 270.7h0M1815.3 222.3h0M1816.7 161.6h0M1818.4 130.7h0M1820.2 97.1h0M1821.9 138.7h0M1823.5 132.4h0M1824.9 177.8h0M1826.6 218.8h0M1828.0 229.8h0M1829.7 274.5h0M1831.5 270.7h0M1832.9 247.1h0M1834.6 238.5h0M1836.5 238.2h0M1837.9 224.1h0M1839.3 265.8h0M1841.0 284.8h0M1842.5 325.5h0M1844.2 352.9h0M1845.7 352.2h0M1847.1 380.9h0M1848.8 338.1h0M1850.6 267.2h0M1852.0 212.8h0M1853.4 191.7h0M1855.1 180.6h0M1856.7 173.3h0M1858.4 167.7h0M1860.0 202.9h0M1861.6 218.2h0M1863.3 193.1h0M1864.7 250.9h0M1866.4 297.3h0M1868.0 309.5h0M1869.7 281.3h0M1871.3 249.1h0M1872.9 257.3h0M1874.6 225.5h0M1876.0 247.4h0M1877.7 243.2h0M1879.3 269.3h0M1880.9 261.5h0M1882.4 236.1h0M1884.1 237.5h0M1885.6 239.7h0M1887.3 243.2h0M1888.7 238.5h0M1890.4 223.1h0M1892.0 187.1h0M1893.4 148.2h0M1895.1 147.2h0M1896.8 150.7h0M1898.6 153.8h0M1900.0 190.9h0M1901.7 219.9h0M1903.3 260.8h0M1904.9 315.6h0M1906.4 338.8h0M1908.1 337.4h0M1909.8 320.0h0M1911.3 305.0h0M1913.0 266.8h0M1914.4 217.5h0M1916.0 207.5h0M1917.7 206.5h0M1919.1 203.4h0M1920.8 205.8h0M1922.6 228.4h0M1923.7 258.4h0M1925.4 244.9h0M1927.1 261.3h0M1928.7 217.8h0M1930.4 214.9h0M1931.8 164.4h0M1933.6 133.5h0M1935.0 163.8h0M1937.0 151.7h0M1938.6 159.2h0M1940.2 191.7h0M1941.7 257.3h0M1943.4 266.2h0M1944.9 270.4h0M1946.6 290.5h0M1948.3 281.7h0M1949.8 274.5h0M1951.1 202.2h0M1952.9 163.8h0M1954.4 123.9h0M1956.2 124.6h0M1957.9 143.7h0M1959.3 158.2h0M1961.0 229.8h0M1962.6 200.1h0M1964.2 198.0h0M1965.7 226.2h0M1967.1 257.3h0M1968.8 215.2h0M1970.3 269.3h0M1972.0 211.7h0M1973.7 214.9h0M1975.3 229.8h0M1977.0 262.2h0M1978.4 279.5h0M1980.1 294.0h0M1981.6 315.9h0M1983.0 302.5h0M1984.7 328.6h0M1986.4 306.4h0M1988.0 279.9h0M1989.7 267.6h0M1991.1 190.0h0M1992.8 218.5h0M1994.3 175.8h0M1996.0 149.3h0M1997.7 130.9h0M1999.5 146.5h0M2001.2 150.0h0M2002.4 184.3h0M2004.1 206.5h0M2005.5 214.7h0M2007.0 197.7h0M2008.7 216.1h0M2010.4 190.7h0M2012.0 207.2h0M2013.7 214.2h0M2015.1 178.7h0M2017.0 218.5h0M2018.7 199.3h0M2020.0 253.0h0M2021.7 259.9h0M2023.5 292.2h0M2025.2 280.2h0M2026.5 299.8h0M2028.2 303.7h0M2029.7 310.7h0M2031.1 249.9h0M2032.8 243.7h0M2034.6 211.1h0M2036.4 216.4h0M2037.6 197.0h0M2039.4 174.0h0M2041.1 196.4h0M2042.5 161.3h0M2044.1 237.5h0M2045.9 175.4h0M2047.6 193.8h0M2049.1 177.6h0M2050.5 207.5h0M2052.2 169.3h0M2053.5 128.7h0M2055.2 144.4h0M2057.0 130.5h0M2058.8 170.0h0M2060.2 181.6h0M2061.8 190.8h0M2063.5 215.5h0M2064.9 175.4h0M2066.3 246.0h0M2067.9 254.8h0M2069.7 252.5h0M2071.5 234.9h0M2073.2 224.8h0M2074.6 186.7h0M2076.0 210.7h0M2077.8 180.2h0M2079.6 205.8h0M2081.2 202.6h0M2082.9 220.2h0M2084.3 256.6h0M2085.7 261.9h0M2087.5 295.2h0M2089.1 251.6h0M2090.9 264.9h0M2092.3 302.8h0M2094.0 239.3h0M2095.8 237.2h0M2097.0 216.7h0M2098.4 237.5h0M2099.9 212.8h0M2101.6 224.3h0M2103.4 270.7h0M2105.0 241.1h0M2106.7 251.1h0M2108.5 223.4h0M2109.9 193.4h0M2111.3 174.0h0M2113.1 126.9h0M2114.3 115.3h0M2116.1 95.9h0M2117.8 112.3h0M2119.6 121.1h0" fill="none" stroke="#000" stroke-width="5.2" stroke-linecap="round"/>
<path d="M1350.7 694.5 L1354.6 687.0 L1358.4 679.6 L1362.3 672.4 L1366.1 665.2 L1370.0 658.1 L1373.9 651.1 L1377.7 644.3 L1381.6 637.5 L1385.5 630.8 L1389.3 624.2 L1393.2 617.8 L1397.0 611.4 L1400.9 605.1 L1404.8 598.8 L1408.6 592.7 L1412.5 586.7 L1416.4 580.7 L1420.2 574.9 L1424.1 569.1 L1427.9 563.4 L1431.8 557.8 L1435.7 552.2 L1439.5 546.8 L1443.4 541.4 L1447.3 536.1 L1451.1 530.9 L1455.0 525.7 L1458.8 520.7 L1462.7 515.7 L1466.6 510.7 L1470.4 505.9 L1474.3 501.1 L1478.2 496.3 L1482.0 491.7 L1485.9 487.1 L1489.7 482.6 L1493.6 478.1 L1497.5 473.7 L1501.3 469.4 L1505.2 465.1 L1509.1 460.9 L1512.9 456.8 L1516.8 452.7 L1520.6 448.6 L1524.5 444.7 L1528.4 440.7 L1532.2 436.9 L1536.1 433.1 L1540.0 429.3 L1543.8 425.6 L1547.7 422.0 L1551.5 418.4 L1555.4 414.8 L1559.3 411.4 L1563.1 407.9 L1567.0 404.5 L1570.9 401.2 L1574.7 397.9 L1578.6 394.6 L1582.4 391.4 L1586.3 388.3 L1590.2 385.2 L1594.0 382.1 L1597.9 379.1 L1601.8 376.1 L1605.6 373.2 L1609.5 370.3 L1613.3 367.4 L1617.2 364.6 L1621.1 361.8 L1624.9 359.1 L1628.8 356.4 L1632.6 353.8 L1636.5 351.1 L1640.4 348.6 L1644.2 346.0 L1648.1 343.5 L1652.0 341.0 L1655.8 338.6 L1659.7 336.2 L1663.5 333.8 L1667.4 331.5 L1671.3 329.2 L1675.1 327.0 L1679.0 324.7 L1682.9 322.5 L1686.7 320.3 L1690.6 318.2 L1694.4 316.1 L1698.3 314.0 L1702.2 312.0 L1706.0 310.0 L1709.9 308.0 L1713.8 306.0 L1717.6 304.1 L1721.5 302.2 L1725.3 300.3 L1729.2 298.4 L1733.1 296.6 L1736.9 294.8 L1740.8 293.0 L1744.7 291.3 L1748.5 289.6 L1752.4 287.9 L1756.2 286.2 L1760.1 284.6 L1764.0 282.9 L1767.8 281.3 L1771.7 279.7 L1775.6 278.2 L1779.4 276.6 L1783.3 275.1 L1787.1 273.6 L1791.0 272.2 L1794.9 270.7 L1798.7 269.3 L1802.6 267.9 L1806.5 266.5 L1810.3 265.1 L1814.2 263.8 L1818.0 262.5 L1821.9 261.1 L1825.8 259.9 L1829.6 258.6 L1833.5 257.3 L1837.4 256.1 L1841.2 254.9 L1845.1 253.7 L1848.9 252.5 L1852.8 251.3 L1856.7 250.2 L1860.5 249.0 L1864.4 247.9 L1868.2 246.8 L1872.1 245.7 L1876.0 244.7 L1879.8 243.6 L1883.7 242.6 L1887.6 241.5 L1891.4 240.5 L1895.3 239.5 L1899.1 238.5 L1903.0 237.6 L1906.9 236.6 L1910.7 235.7 L1914.6 234.8 L1918.5 233.8 L1922.3 232.9 L1926.2 232.1 L1930.0 231.2 L1933.9 230.3 L1937.8 229.5 L1941.6 228.6 L1945.5 227.8 L1949.4 227.0 L1953.2 226.2 L1957.1 225.4 L1960.9 224.6 L1964.8 223.8 L1968.7 223.1 L1972.5 222.3 L1976.4 221.6 L1980.3 220.9 L1984.1 220.2 L1988.0 219.5 L1991.8 218.8 L1995.7 218.1 L1999.6 217.4 L2003.4 216.7 L2007.3 216.1 L2011.2 215.4 L2015.0 214.8 L2018.9 214.2 L2022.7 213.6 L2026.6 212.9 L2030.5 212.3 L2034.3 211.8 L2038.2 211.2 L2042.1 210.6 L2045.9 210.0 L2049.8 209.5 L2053.6 208.9 L2057.5 208.4 L2061.4 207.8 L2065.2 207.3 L2069.1 206.8 L2073.0 206.3 L2076.8 205.8 L2080.7 205.3 L2084.5 204.8 L2088.4 204.3 L2092.3 203.8 L2096.1 203.3 L2100.0 202.9 L2103.9 202.4 L2107.7 202.0 L2111.6 201.5 L2115.4 201.1 L2119.3 200.7" fill="none" stroke="#e40f14" stroke-width="2.8"/>
</g>
<rect x="1825.7" y="399.1" width="283.2" height="444.4" fill="#fff" stroke="#000" stroke-width="2.6" stroke-dasharray="2.6 2.45"/>
<line x1="1891.3" y1="434.6" x2="2006.8" y2="434.6" stroke="#000" stroke-width="2.8"/>
<line x1="1943.0" y1="440.1" x2="2058.5" y2="440.1" stroke="#000" stroke-width="2.8"/>
<line x1="1897.9" y1="519.5" x2="2013.3" y2="519.5" stroke="#000" stroke-width="2.8"/>
<line x1="1924.2" y1="607.4" x2="2039.8" y2="607.4" stroke="#000" stroke-width="2.8"/>
<line x1="1873.9" y1="822.6" x2="1988.5" y2="822.6" stroke="#000" stroke-width="2.8"/>
<line x1="1897.6" y1="518.4" x2="1897.6" y2="444" stroke="#6a3bff" stroke-width="2.2" stroke-dasharray="2.4 3.6"/>
<path d="M1897.6 430.2 L1903.9 446.6 L1897.6 443.6 L1891.2 446.6 Z" fill="#6a3bff"/>
<line x1="1957.5" y1="606.4" x2="1957.5" y2="458" stroke="#f9669e" stroke-width="3.0" stroke-dasharray="3 4"/>
<path d="M1957.5 440.1 L1965.7 461.1 L1957.5 457.3 L1949.3 461.1 Z" fill="#f9669e"/>
<line x1="1976.6" y1="513" x2="1976.6" y2="586" stroke="#000" stroke-width="2.7" stroke-dasharray="1.5 3.8 7.6 3.4 7.6 3.4 7.6 3.4 7.6 3.4 7.6 3.4 7.6 3.4"/>
<path d="M1976.6 606.0 L1984.2 580.3 L1976.6 584.9 L1968.9 580.3 Z" fill="#000"/>
<line x1="1912" y1="822.6" x2="1912" y2="532" stroke="#6a3bff" stroke-width="3.2"/>
<path d="M1912.0 515.4 L1920.0 536.0 L1912.0 532.3 L1904.0 536.0 Z" fill="#000"/>
<line x1="1943.3" y1="822.6" x2="1943.3" y2="620" stroke="#f9669e" stroke-width="3.2"/>
<path d="M1943.3 603.3 L1951.1 623.9 L1943.3 620.2 L1935.5 623.9 Z" fill="#f9669e"/>
<rect x="1350.7" y="62.5" width="768.6" height="789.5" fill="none" stroke="#000" stroke-width="2.6"/>
<line x1="1418.9" y1="852.0" x2="1418.9" y2="860.8" stroke="#000" stroke-width="2.5"/>
<line x1="1518.9" y1="852.0" x2="1518.9" y2="860.8" stroke="#000" stroke-width="2.5"/>
<line x1="1618.9" y1="852.0" x2="1618.9" y2="860.8" stroke="#000" stroke-width="2.5"/>
<line x1="1718.9" y1="852.0" x2="1718.9" y2="860.8" stroke="#000" stroke-width="2.5"/>
<line x1="1818.9" y1="852.0" x2="1818.9" y2="860.8" stroke="#000" stroke-width="2.5"/>
<line x1="1918.9" y1="852.0" x2="1918.9" y2="860.8" stroke="#000" stroke-width="2.5"/>
<line x1="2018.9" y1="852.0" x2="2018.9" y2="860.8" stroke="#000" stroke-width="2.5"/>
<line x1="2118.9" y1="852.0" x2="2118.9" y2="860.8" stroke="#000" stroke-width="2.5"/>
<line x1="1342.1" y1="121.3" x2="1350.7" y2="121.3" stroke="#000" stroke-width="2.5"/>
<line x1="1342.1" y1="238.8" x2="1350.7" y2="238.8" stroke="#000" stroke-width="2.5"/>
<line x1="1342.1" y1="356.3" x2="1350.7" y2="356.3" stroke="#000" stroke-width="2.5"/>
<line x1="1342.1" y1="473.8" x2="1350.7" y2="473.8" stroke="#000" stroke-width="2.5"/>
<line x1="1342.1" y1="591.3" x2="1350.7" y2="591.3" stroke="#000" stroke-width="2.5"/>
<line x1="1342.1" y1="708.8" x2="1350.7" y2="708.8" stroke="#000" stroke-width="2.5"/>
<line x1="1342.1" y1="826.3" x2="1350.7" y2="826.3" stroke="#000" stroke-width="2.5"/>
</g>
<g id="panel-c">
<clipPath id="clipC"><rect x="95.4" y="1104.2" width="950.8" height="484.5"/></clipPath>
<g clip-path="url(#clipC)">
<path d="M95.4 1355.2 L97.9 1355.2 L100.4 1355.1 L102.9 1354.9 L105.4 1354.7 L107.9 1354.0 L110.4 1352.8 L112.9 1351.8 L115.4 1351.6 L117.9 1352.8 L120.4 1354.1 L122.9 1353.9 L125.4 1353.0 L127.9 1352.2 L130.4 1352.3 L132.9 1353.3 L135.4 1354.1 L137.9 1351.6 L140.4 1346.4 L142.9 1342.2 L145.4 1340.1 L147.9 1339.9 L150.4 1339.5 L152.9 1330.7 L155.5 1308.0 L158.0 1260.3 L160.5 1205.9 L163.0 1170.6 L165.2 1161.0 L168.0 1175.6 L170.5 1212.8 L173.0 1264.4 L175.5 1313.0 L178.0 1339.3 L180.5 1348.1 L183.0 1345.0 L185.5 1341.9 L188.4 1340.2 L190.5 1340.8 L193.0 1342.6 L195.5 1346.8 L198.0 1350.5 L200.5 1353.7 L203.0 1354.0 L205.5 1353.1 L208.0 1352.3 L210.5 1352.2 L213.0 1353.2 L215.5 1354.1 L218.0 1351.7 L220.5 1345.6 L223.0 1342.2 L225.5 1340.0 L226.6 1339.7 L228.0 1340.1 L230.5 1341.6 L233.0 1341.9 L235.5 1340.7 L238.0 1339.3 L239.8 1338.9 L243.0 1341.8 L245.5 1346.8 L248.0 1353.3 L250.5 1353.9 L253.0 1352.6 L255.5 1351.0 L258.0 1349.7 L259.6 1349.4 L263.0 1352.3 L265.5 1354.6 L268.0 1354.6 L270.5 1354.3 L273.0 1354.0 L275.6 1353.6 L278.1 1353.4 L280.6 1353.4 L283.1 1353.6 L285.6 1353.9 L288.1 1354.1 L290.6 1354.1 L293.1 1352.6 L295.6 1350.6 L298.1 1349.4 L300.6 1348.8 L303.1 1348.6 L305.6 1348.6 L308.1 1348.6 L310.6 1348.6 L313.1 1348.6 L315.6 1349.1 L318.1 1350.4 L320.6 1351.7 L323.1 1352.9 L325.6 1353.9 L328.1 1354.3 L330.6 1354.6 L333.1 1354.8 L335.6 1355.0 L338.1 1355.1 L340.6 1355.2 L343.1 1355.2 L345.6 1355.2 L348.1 1355.2 L350.6 1355.2 L353.1 1355.2 L355.6 1355.2 L358.1 1355.2 L360.6 1355.2 L363.1 1355.2 L365.6 1355.2 L368.1 1355.2 L370.6 1355.2 L373.1 1355.2 L375.6 1354.9 L378.1 1353.5 L380.6 1352.6 L383.1 1353.7 L385.6 1355.2 L388.1 1354.2 L390.6 1350.6 L393.2 1337.8 L395.7 1325.5 L398.2 1315.9 L400.6 1312.0 L403.2 1315.2 L405.7 1325.3 L408.2 1338.6 L410.7 1349.7 L413.2 1354.1 L415.7 1353.3 L418.2 1349.5 L420.7 1347.3 L422.2 1346.8 L425.7 1348.9 L428.2 1351.0 L430.7 1353.3 L433.2 1354.6 L435.7 1354.8 L438.2 1354.9 L440.7 1355.0 L443.2 1355.0 L445.7 1355.1 L448.2 1355.1 L450.7 1355.2 L453.2 1355.2 L455.7 1355.2 L458.2 1355.2 L460.7 1355.2 L463.2 1354.9 L465.7 1354.1 L468.2 1353.4 L470.7 1353.6 L473.2 1354.4 L475.7 1355.1 L478.2 1355.0 L480.7 1354.0 L483.2 1353.0 L485.7 1351.9 L488.2 1351.6 L490.7 1353.1 L493.2 1354.3 L495.7 1354.8 L498.2 1355.1 L500.7 1355.2 L503.2 1355.2 L505.7 1355.2 L508.2 1355.2 L510.7 1355.2 L513.3 1355.2 L515.8 1355.2 L518.3 1354.6 L520.8 1350.8 L523.3 1346.7 L525.8 1342.4 L528.3 1339.8 L531.1 1338.9 L533.3 1340.0 L535.8 1342.9 L538.3 1348.4 L540.8 1352.6 L543.3 1355.2 L545.8 1355.2 L548.3 1355.2 L550.8 1355.2 L553.3 1355.2 L555.8 1355.2 L558.3 1355.2 L560.8 1354.9 L563.3 1354.4 L565.8 1353.9 L568.3 1353.6 L570.8 1353.7 L573.3 1354.0 L575.8 1354.4 L578.3 1354.6 L580.8 1354.8 L583.3 1354.9 L585.8 1355.0 L588.3 1355.1 L590.8 1355.2 L593.3 1355.2 L595.8 1355.2 L598.3 1354.9 L600.8 1354.3 L603.3 1353.7 L605.8 1353.3 L608.3 1353.1 L610.8 1353.3 L613.3 1353.8 L615.8 1354.3 L618.3 1354.7 L620.8 1354.8 L623.3 1355.0 L625.8 1355.1 L628.3 1355.2 L630.9 1355.2 L633.4 1355.2 L635.9 1355.1 L638.4 1354.9 L640.9 1354.8 L643.4 1354.7 L645.9 1354.7 L648.4 1354.8 L650.9 1355.0 L653.4 1355.2 L655.9 1355.2 L658.4 1354.1 L660.9 1352.2 L663.4 1350.7 L665.9 1350.1 L668.4 1349.6 L670.9 1349.1 L673.4 1348.3 L675.9 1346.5 L678.4 1344.4 L680.9 1342.6 L683.4 1340.9 L685.9 1339.6 L687.1 1339.4 L688.4 1339.6 L690.9 1340.9 L693.4 1343.2 L695.9 1345.9 L698.4 1347.9 L700.9 1349.3 L703.4 1349.1 L705.9 1348.0 L708.4 1346.7 L710.9 1345.2 L713.4 1343.1 L715.9 1339.2 L718.4 1329.9 L720.9 1309.3 L723.4 1276.1 L725.9 1233.0 L728.4 1182.8 L730.9 1138.8 L734.0 1119.6 L735.9 1122.7 L738.4 1145.8 L740.9 1187.9 L743.4 1236.7 L745.9 1281.1 L748.4 1310.4 L751.0 1324.5 L753.5 1332.0 L756.0 1334.9 L758.5 1333.4 L761.0 1329.9 L763.5 1323.2 L766.0 1316.0 L768.5 1310.9 L771.4 1308.0 L773.5 1308.9 L776.0 1313.2 L778.5 1321.7 L781.0 1328.2 L783.5 1330.6 L786.0 1331.7 L788.5 1333.0 L791.0 1334.8 L793.5 1337.3 L796.0 1339.9 L798.5 1341.1 L801.0 1341.8 L803.5 1343.2 L806.0 1346.6 L808.5 1350.5 L811.0 1354.5 L813.5 1355.0 L816.0 1353.6 L818.5 1352.2 L821.0 1351.5 L823.5 1351.0 L826.0 1350.3 L828.5 1348.2 L831.0 1345.3 L834.2 1343.6 L836.0 1345.1 L838.5 1349.0 L841.0 1354.4 L843.5 1353.9 L846.0 1349.0 L848.5 1345.2 L851.0 1341.6 L853.5 1336.9 L856.0 1329.9 L858.5 1312.9 L861.0 1289.6 L864.5 1271.7 L866.0 1275.1 L868.6 1292.0 L871.1 1317.5 L873.6 1334.8 L876.1 1332.8 L878.6 1310.1 L881.1 1264.7 L883.6 1219.4 L886.1 1183.5 L888.6 1159.8 L891.1 1148.1 L893.2 1143.9 L896.1 1158.2 L898.6 1194.1 L901.1 1243.7 L903.6 1284.6 L906.1 1314.7 L908.6 1320.3 L911.1 1320.0 L912.4 1319.9 L913.6 1321.6 L916.1 1330.2 L918.6 1337.5 L921.1 1340.1 L923.6 1339.1 L924.8 1338.9 L926.1 1339.6 L928.6 1342.9 L931.1 1346.1 L933.6 1348.7 L936.1 1348.3 L939.6 1346.8 L941.1 1347.3 L943.6 1349.2 L946.1 1350.7 L948.6 1350.2 L951.1 1349.0 L953.3 1348.4 L956.1 1349.0 L958.6 1349.8 L961.1 1349.8 L963.6 1349.1 L966.1 1348.3 L967.8 1348.1 L971.1 1350.1 L973.6 1351.9 L976.1 1352.0 L978.6 1351.8 L981.1 1351.6 L983.6 1351.5 L986.1 1351.5 L988.7 1351.5 L991.2 1351.5 L993.7 1351.1 L996.2 1350.6 L998.7 1350.5 L1001.2 1350.7 L1003.7 1351.1 L1006.2 1351.8 L1008.7 1353.5 L1011.2 1354.9 L1013.7 1355.1 L1016.2 1354.3 L1018.7 1353.3 L1021.2 1352.6 L1023.7 1352.6 L1026.2 1352.9 L1028.7 1353.1 L1031.2 1353.3 L1033.7 1353.3 L1036.2 1353.1 L1038.7 1352.8 L1041.2 1352.5 L1043.7 1352.1 L1046.2 1351.6 L1046.2 1356.0 L95.4 1356.0 Z" fill="#a05cfb" stroke="#343434" stroke-width="2" stroke-linejoin="miter" stroke-miterlimit="6"/>
<path d="M95.4 1581.1 L97.9 1585.9 L100.4 1585.8 L102.9 1583.7 L105.4 1582.5 L107.9 1581.9 L110.4 1583.0 L112.9 1584.9 L115.4 1586.1 L117.9 1586.9 L120.4 1586.8 L122.9 1586.0 L125.4 1582.4 L127.9 1574.3 L130.4 1567.8 L132.9 1565.2 L134.4 1564.8 L135.4 1565.7 L137.9 1572.2 L140.4 1581.7 L142.9 1586.6 L145.4 1584.7 L147.9 1580.9 L150.4 1580.0 L152.9 1575.6 L155.5 1552.6 L158.0 1491.7 L160.5 1420.3 L163.0 1374.0 L165.2 1357.1 L168.0 1379.1 L170.5 1437.8 L173.0 1496.1 L175.5 1526.8 L178.0 1510.3 L180.5 1477.7 L181.8 1469.1 L183.0 1470.9 L185.5 1487.0 L188.0 1529.3 L190.5 1566.1 L193.0 1582.0 L195.5 1582.6 L198.0 1574.3 L200.3 1571.9 L203.0 1577.4 L205.5 1585.8 L208.0 1584.0 L210.5 1581.5 L212.1 1581.1 L215.5 1585.1 L218.0 1584.3 L220.5 1574.8 L223.0 1560.2 L226.1 1551.6 L228.0 1553.4 L230.5 1564.3 L233.0 1576.5 L235.5 1573.6 L238.0 1554.4 L240.5 1538.5 L243.8 1531.9 L245.5 1537.9 L248.0 1555.6 L250.5 1575.6 L253.0 1583.1 L255.5 1580.2 L258.0 1572.7 L259.6 1571.4 L263.0 1573.6 L265.5 1580.9 L268.0 1586.4 L270.5 1586.9 L273.0 1586.7 L275.6 1586.5 L278.1 1586.3 L280.6 1586.1 L283.1 1585.8 L285.6 1585.5 L288.1 1584.6 L290.6 1581.7 L293.1 1579.7 L295.7 1578.5 L298.1 1580.0 L300.6 1583.5 L303.1 1586.9 L305.6 1583.7 L308.1 1576.5 L310.6 1570.5 L312.8 1568.5 L315.6 1572.0 L318.1 1578.9 L320.6 1583.8 L323.1 1583.8 L325.6 1582.4 L328.1 1580.3 L330.6 1581.1 L333.1 1582.8 L335.6 1585.9 L338.1 1587.0 L340.6 1587.0 L343.1 1587.1 L345.6 1587.1 L348.1 1587.2 L350.6 1587.2 L353.1 1587.2 L355.6 1587.2 L358.1 1587.0 L360.6 1586.6 L363.1 1586.3 L365.6 1586.2 L368.1 1586.6 L370.6 1587.1 L373.1 1586.9 L375.6 1585.8 L378.1 1585.1 L380.6 1585.9 L383.1 1586.9 L385.6 1582.2 L388.1 1568.5 L390.6 1545.0 L393.2 1522.1 L395.7 1509.2 L397.9 1504.7 L400.7 1511.6 L403.2 1529.4 L405.7 1554.4 L408.2 1578.2 L410.7 1586.6 L413.2 1585.2 L415.7 1581.5 L418.2 1576.9 L420.7 1574.6 L422.2 1574.0 L425.7 1576.5 L428.2 1579.8 L430.7 1583.2 L433.2 1586.1 L435.7 1587.0 L438.2 1587.1 L440.7 1587.1 L443.2 1587.2 L445.7 1587.2 L448.2 1587.2 L450.7 1587.2 L453.2 1587.1 L455.7 1587.1 L458.2 1587.0 L460.7 1586.9 L463.2 1586.7 L465.7 1586.5 L468.2 1585.3 L470.7 1582.6 L473.2 1581.2 L475.7 1580.6 L478.2 1581.6 L480.7 1583.3 L483.2 1585.6 L485.7 1586.5 L488.2 1586.8 L490.7 1587.0 L493.2 1587.1 L495.7 1587.2 L498.2 1587.2 L500.7 1587.2 L503.2 1587.2 L505.7 1587.2 L508.2 1587.1 L510.7 1587.0 L513.3 1586.9 L515.8 1584.0 L518.3 1578.9 L520.8 1573.2 L523.3 1567.4 L525.8 1563.3 L528.5 1560.8 L530.8 1563.0 L533.3 1567.8 L535.8 1575.5 L538.3 1582.0 L540.8 1586.4 L543.3 1586.7 L545.8 1587.0 L548.3 1587.1 L550.8 1587.2 L553.3 1587.2 L555.8 1587.0 L558.3 1586.8 L560.8 1586.4 L563.3 1586.0 L565.8 1585.6 L568.3 1585.2 L570.8 1584.8 L573.3 1584.3 L575.8 1584.0 L578.3 1583.8 L580.8 1584.1 L583.3 1585.2 L585.8 1586.3 L588.3 1586.4 L590.8 1586.2 L593.3 1585.9 L595.8 1585.4 L598.3 1584.8 L600.8 1583.1 L603.3 1581.4 L605.8 1580.8 L608.0 1580.6 L610.8 1582.4 L613.3 1584.6 L615.8 1585.6 L618.3 1586.5 L620.8 1586.9 L623.3 1586.9 L625.8 1586.6 L628.3 1586.2 L630.9 1585.8 L633.4 1585.2 L635.9 1584.4 L638.4 1584.5 L640.9 1585.6 L643.4 1586.4 L645.9 1586.0 L648.4 1585.1 L650.9 1584.5 L653.4 1584.2 L655.9 1582.8 L658.4 1562.3 L660.9 1547.1 L663.4 1539.6 L664.7 1538.2 L665.9 1540.1 L668.4 1552.1 L670.9 1572.6 L673.4 1585.1 L675.9 1582.7 L678.4 1568.1 L681.8 1556.1 L683.4 1557.3 L685.9 1563.3 L688.4 1577.1 L690.9 1585.8 L693.4 1586.5 L695.9 1585.1 L698.4 1584.6 L700.9 1585.5 L703.4 1586.3 L705.9 1585.9 L708.4 1583.9 L710.9 1581.9 L713.4 1580.6 L715.9 1578.7 L718.4 1568.7 L720.9 1553.5 L723.4 1539.5 L725.9 1529.9 L728.4 1526.0 L731.9 1523.7 L733.4 1524.0 L735.9 1525.8 L738.4 1529.9 L740.9 1539.5 L743.4 1551.2 L745.9 1562.2 L748.4 1570.9 L751.0 1573.7 L753.5 1575.2 L756.0 1577.7 L758.5 1580.5 L761.0 1581.5 L763.5 1581.9 L766.0 1581.4 L768.5 1578.3 L770.1 1577.2 L773.5 1578.7 L776.0 1580.1 L778.5 1581.4 L781.0 1582.3 L783.5 1582.4 L786.0 1582.3 L788.5 1582.1 L791.0 1581.8 L793.5 1581.3 L796.0 1580.7 L799.1 1580.3 L801.0 1580.5 L803.5 1581.2 L806.0 1582.1 L808.5 1582.9 L811.0 1583.9 L813.5 1584.9 L816.0 1585.6 L818.5 1586.0 L821.0 1586.3 L823.5 1586.3 L826.0 1584.9 L828.5 1583.0 L831.0 1581.5 L833.5 1580.0 L836.0 1579.3 L838.5 1579.8 L841.0 1581.0 L843.5 1583.5 L846.0 1586.2 L848.5 1586.7 L851.0 1586.9 L853.5 1585.8 L856.0 1582.0 L858.5 1575.5 L861.0 1567.6 L863.5 1559.1 L866.0 1551.7 L868.6 1546.7 L871.1 1544.2 L873.6 1547.0 L876.1 1553.4 L878.6 1562.8 L881.1 1573.0 L883.6 1578.4 L886.1 1579.0 L888.6 1569.9 L891.1 1552.3 L893.6 1542.4 L896.1 1539.5 L898.6 1542.7 L901.1 1552.3 L903.6 1566.4 L906.1 1577.7 L908.6 1581.8 L911.1 1582.1 L913.6 1580.7 L915.1 1580.3 L916.1 1580.8 L918.6 1583.9 L921.1 1585.1 L923.6 1584.6 L926.1 1584.0 L928.6 1583.8 L931.1 1584.8 L933.6 1586.2 L936.1 1586.4 L938.6 1586.4 L941.1 1586.4 L943.6 1586.4 L946.1 1586.4 L948.6 1586.4 L951.1 1585.6 L953.6 1584.7 L956.1 1584.8 L958.6 1585.8 L961.1 1586.4 L963.6 1586.3 L966.1 1586.2 L968.6 1585.9 L971.1 1585.7 L973.6 1585.6 L976.1 1585.7 L978.6 1586.1 L981.1 1586.4 L983.6 1586.3 L986.1 1585.9 L988.7 1585.1 L991.2 1584.4 L993.7 1583.9 L996.2 1583.9 L998.7 1585.0 L1001.2 1585.6 L1003.7 1585.3 L1006.2 1584.6 L1008.7 1584.0 L1011.2 1583.8 L1013.7 1583.9 L1016.2 1584.3 L1018.7 1584.7 L1021.2 1585.0 L1023.7 1585.2 L1026.2 1585.4 L1028.7 1585.5 L1031.2 1585.6 L1033.7 1585.7 L1036.2 1585.8 L1038.7 1585.9 L1041.2 1586.1 L1043.7 1586.2 L1046.2 1586.4 L1046.2 1587.7 L95.4 1587.7 Z" fill="#a05cfb" stroke="#343434" stroke-width="2" stroke-linejoin="miter" stroke-miterlimit="6"/>
</g>
<line x1="95.4" y1="1356.0" x2="1046.2" y2="1356.0" stroke="#000" stroke-width="1.6"/>
<rect x="95.4" y="1106.2" width="950.8" height="481.5" fill="none" stroke="#000" stroke-width="2.6"/>
<line x1="177.1" y1="1587.7" x2="177.1" y2="1598.3" stroke="#000" stroke-width="2.5"/>
<line x1="312.8" y1="1587.7" x2="312.8" y2="1598.3" stroke="#000" stroke-width="2.5"/>
<line x1="448.4" y1="1587.7" x2="448.4" y2="1598.3" stroke="#000" stroke-width="2.5"/>
<line x1="584.1" y1="1587.7" x2="584.1" y2="1598.3" stroke="#000" stroke-width="2.5"/>
<line x1="719.7" y1="1587.7" x2="719.7" y2="1598.3" stroke="#000" stroke-width="2.5"/>
<line x1="855.4" y1="1587.7" x2="855.4" y2="1598.3" stroke="#000" stroke-width="2.5"/>
<line x1="991.0" y1="1587.7" x2="991.0" y2="1598.3" stroke="#000" stroke-width="2.5"/>
</g>
<g id="panel-d">
<clipPath id="clipD"><rect x="1165.1" y="1104.2" width="950.7" height="484.0"/></clipPath>
<g clip-path="url(#clipD)">
<path d="M1165.1 1342.8 L1167.6 1341.1 L1170.4 1340.2 L1172.6 1343.6 L1175.1 1347.8 L1177.6 1349.0 L1180.1 1343.9 L1183.1 1342.8 L1185.1 1346.7 L1187.6 1353.0 L1190.1 1351.2 L1192.6 1338.2 L1195.1 1328.1 L1196.2 1326.5 L1197.6 1327.5 L1200.1 1335.8 L1202.6 1348.6 L1205.1 1345.4 L1207.6 1322.6 L1210.1 1303.8 L1212.6 1298.9 L1213.9 1298.8 L1215.1 1307.0 L1217.6 1329.6 L1220.1 1337.4 L1222.6 1309.0 L1225.1 1233.3 L1227.6 1161.1 L1230.5 1124.1 L1232.6 1126.0 L1235.2 1139.7 L1237.7 1172.2 L1240.2 1210.5 L1242.7 1242.1 L1245.2 1264.4 L1247.7 1273.2 L1250.2 1273.8 L1252.6 1272.2 L1255.2 1279.2 L1257.7 1292.3 L1260.2 1312.3 L1262.7 1335.2 L1265.2 1348.8 L1267.7 1353.2 L1270.2 1354.7 L1272.7 1354.7 L1275.2 1354.7 L1277.7 1354.5 L1280.2 1353.7 L1282.7 1352.6 L1285.2 1350.6 L1287.7 1347.4 L1290.2 1343.0 L1292.7 1340.8 L1294.3 1340.2 L1297.7 1343.9 L1300.2 1346.7 L1302.7 1336.3 L1305.2 1316.1 L1307.7 1300.3 L1310.2 1293.8 L1311.4 1292.8 L1312.7 1295.3 L1315.2 1307.3 L1317.7 1325.3 L1320.2 1341.1 L1322.7 1349.9 L1325.2 1353.9 L1327.7 1354.2 L1330.2 1354.2 L1332.7 1354.2 L1335.2 1354.2 L1337.7 1354.2 L1340.2 1354.2 L1342.7 1354.6 L1345.2 1354.6 L1347.7 1353.6 L1350.2 1352.6 L1352.7 1352.9 L1355.2 1353.7 L1357.7 1354.1 L1360.2 1352.7 L1362.7 1350.8 L1365.2 1349.8 L1367.7 1349.0 L1370.3 1348.1 L1372.8 1347.3 L1376.0 1346.8 L1377.8 1347.3 L1380.3 1348.8 L1382.8 1350.5 L1385.3 1352.3 L1387.8 1352.6 L1390.3 1352.6 L1392.8 1352.6 L1395.3 1353.2 L1397.8 1354.1 L1400.3 1353.2 L1402.8 1350.6 L1405.3 1349.4 L1407.8 1350.8 L1410.3 1352.6 L1412.8 1353.9 L1415.3 1353.9 L1417.8 1352.1 L1420.3 1351.6 L1422.8 1352.5 L1425.3 1353.3 L1427.8 1353.2 L1430.3 1352.6 L1432.8 1352.1 L1435.3 1352.3 L1437.8 1353.1 L1440.3 1352.9 L1442.8 1350.0 L1445.3 1347.9 L1447.6 1346.8 L1450.3 1349.7 L1452.8 1353.2 L1455.3 1354.0 L1457.8 1346.1 L1460.3 1325.6 L1462.8 1307.8 L1465.6 1298.6 L1467.8 1298.6 L1470.3 1300.2 L1472.8 1314.0 L1475.3 1332.0 L1477.8 1345.3 L1480.3 1349.4 L1482.8 1347.3 L1484.0 1346.8 L1485.3 1347.1 L1487.8 1348.1 L1490.3 1347.6 L1492.8 1345.9 L1495.3 1341.7 L1497.8 1338.7 L1499.8 1337.6 L1502.8 1340.0 L1505.4 1344.7 L1507.9 1349.3 L1510.4 1352.1 L1512.9 1351.4 L1515.4 1350.3 L1517.9 1350.1 L1520.4 1351.6 L1522.9 1352.8 L1525.4 1353.6 L1527.9 1354.1 L1530.4 1354.2 L1532.9 1354.2 L1535.4 1354.2 L1537.9 1354.2 L1540.4 1354.2 L1542.9 1354.1 L1545.4 1352.9 L1547.9 1351.2 L1550.4 1349.1 L1552.9 1347.2 L1555.4 1346.4 L1556.5 1346.3 L1557.9 1346.7 L1560.4 1348.8 L1562.9 1352.3 L1565.4 1354.2 L1567.9 1354.0 L1570.4 1353.7 L1572.9 1353.5 L1575.4 1353.4 L1577.9 1353.6 L1580.4 1354.0 L1582.9 1353.9 L1585.4 1351.2 L1587.9 1348.5 L1590.4 1346.7 L1592.9 1345.2 L1595.4 1344.0 L1597.9 1342.9 L1600.4 1342.2 L1601.9 1342.0 L1602.9 1342.2 L1605.4 1343.8 L1607.9 1346.7 L1610.4 1350.3 L1612.9 1353.8 L1615.4 1354.2 L1617.9 1354.2 L1620.4 1354.2 L1622.9 1354.2 L1625.4 1354.2 L1627.9 1353.9 L1630.4 1353.2 L1632.9 1352.5 L1635.4 1352.1 L1637.9 1352.1 L1640.5 1352.4 L1643.0 1352.8 L1645.5 1353.2 L1648.0 1353.5 L1650.5 1353.7 L1653.0 1354.0 L1655.5 1354.1 L1658.0 1354.1 L1660.5 1353.6 L1663.0 1352.8 L1665.5 1352.0 L1668.0 1351.0 L1670.5 1350.1 L1673.0 1349.4 L1675.5 1349.1 L1678.0 1348.9 L1679.6 1348.9 L1683.0 1350.3 L1685.5 1351.8 L1688.0 1353.4 L1690.5 1354.2 L1693.0 1354.1 L1695.5 1354.0 L1698.0 1353.9 L1700.5 1353.7 L1703.0 1353.5 L1705.5 1353.0 L1708.0 1352.4 L1710.5 1352.1 L1713.0 1352.4 L1715.5 1353.5 L1718.0 1354.2 L1720.5 1353.6 L1723.0 1352.6 L1725.5 1351.7 L1728.0 1351.7 L1730.5 1352.9 L1733.0 1354.1 L1735.5 1354.1 L1738.0 1353.9 L1740.5 1353.5 L1743.0 1352.9 L1745.5 1351.6 L1748.0 1348.2 L1750.5 1345.0 L1753.0 1343.2 L1754.7 1342.8 L1758.0 1347.0 L1760.5 1351.8 L1763.0 1353.3 L1765.5 1352.9 L1768.0 1352.6 L1770.5 1352.6 L1773.0 1352.6 L1775.5 1352.6 L1778.1 1351.5 L1780.6 1349.3 L1783.1 1347.7 L1785.6 1346.2 L1788.1 1343.4 L1790.6 1338.2 L1793.1 1326.4 L1795.6 1314.1 L1798.1 1307.4 L1799.5 1305.9 L1800.6 1306.2 L1803.1 1308.7 L1805.6 1316.4 L1808.1 1326.0 L1810.6 1335.2 L1813.1 1341.2 L1815.6 1344.9 L1818.1 1347.6 L1820.6 1348.1 L1823.1 1348.1 L1825.6 1348.0 L1828.1 1347.7 L1829.9 1347.6 L1833.1 1349.4 L1835.6 1351.6 L1838.1 1353.8 L1840.6 1354.3 L1843.1 1354.4 L1845.6 1354.5 L1848.1 1354.6 L1850.6 1354.7 L1853.1 1354.7 L1855.6 1354.7 L1858.1 1354.6 L1860.6 1354.6 L1863.1 1354.5 L1865.6 1354.3 L1868.1 1354.2 L1870.6 1353.9 L1873.1 1353.5 L1875.6 1353.2 L1878.1 1352.7 L1880.6 1352.2 L1883.1 1352.1 L1885.6 1352.6 L1888.1 1353.3 L1890.6 1353.3 L1893.1 1353.0 L1895.6 1352.6 L1898.1 1352.6 L1900.6 1352.9 L1903.1 1353.4 L1905.6 1353.8 L1908.1 1353.9 L1910.6 1353.8 L1913.2 1353.5 L1915.7 1353.1 L1918.2 1352.6 L1920.7 1350.6 L1923.2 1348.2 L1925.7 1347.2 L1928.1 1346.8 L1930.7 1347.7 L1933.2 1349.3 L1935.7 1351.9 L1938.2 1352.5 L1940.7 1351.4 L1943.2 1349.5 L1945.7 1346.0 L1948.2 1343.0 L1950.7 1340.4 L1953.2 1338.3 L1955.7 1336.5 L1958.2 1335.6 L1960.7 1335.3 L1962.9 1335.2 L1965.7 1336.6 L1968.2 1338.9 L1970.7 1342.3 L1973.2 1345.2 L1975.7 1347.3 L1978.2 1348.4 L1980.7 1349.1 L1983.2 1350.9 L1985.7 1353.1 L1988.2 1353.1 L1990.7 1352.0 L1993.2 1351.0 L1995.7 1350.2 L1998.2 1351.5 L2000.7 1352.8 L2003.2 1353.5 L2005.7 1353.6 L2008.2 1353.0 L2010.7 1352.6 L2013.2 1353.0 L2015.7 1353.6 L2018.2 1353.9 L2020.7 1353.8 L2023.2 1353.7 L2025.7 1353.5 L2028.2 1353.4 L2030.7 1353.4 L2033.2 1353.7 L2035.7 1353.9 L2038.2 1354.1 L2040.7 1354.1 L2043.2 1354.0 L2045.7 1353.8 L2048.3 1353.5 L2050.8 1353.3 L2053.3 1353.1 L2055.8 1352.8 L2058.3 1352.6 L2060.8 1352.6 L2063.3 1352.8 L2065.8 1353.2 L2068.3 1353.7 L2070.8 1353.9 L2073.3 1353.8 L2075.8 1353.4 L2078.3 1353.1 L2080.8 1352.9 L2083.3 1352.9 L2085.8 1353.1 L2088.3 1353.4 L2090.8 1353.6 L2093.3 1353.6 L2095.8 1353.3 L2098.3 1352.9 L2100.8 1352.4 L2103.3 1351.8 L2105.8 1351.5 L2108.3 1352.0 L2110.8 1352.6 L2113.3 1353.0 L2115.8 1353.4 L2115.8 1355.2 L1165.1 1355.2 Z" fill="#ff3f8c" stroke="#343434" stroke-width="2" stroke-linejoin="miter" stroke-miterlimit="6"/>
<path d="M1165.1 1571.9 L1167.6 1575.4 L1170.1 1578.4 L1172.6 1580.9 L1175.1 1581.6 L1177.6 1580.6 L1180.1 1578.1 L1182.6 1575.9 L1185.1 1572.9 L1187.6 1567.7 L1190.1 1558.4 L1192.6 1545.4 L1195.1 1534.6 L1198.6 1528.4 L1200.1 1530.3 L1202.6 1537.7 L1205.1 1550.7 L1207.6 1565.5 L1210.1 1578.6 L1212.6 1586.1 L1215.1 1585.3 L1217.6 1582.0 L1220.1 1575.6 L1222.6 1566.6 L1225.1 1548.7 L1227.6 1510.5 L1230.1 1453.3 L1232.6 1391.4 L1235.5 1355.8 L1237.7 1379.6 L1240.2 1454.0 L1242.7 1530.8 L1245.2 1550.1 L1247.7 1538.8 L1250.2 1454.9 L1252.7 1373.9 L1255.3 1355.8 L1257.7 1399.9 L1260.2 1481.1 L1262.7 1548.5 L1265.2 1581.3 L1267.7 1579.5 L1270.2 1572.8 L1272.7 1571.9 L1275.2 1576.9 L1277.7 1582.4 L1280.2 1582.4 L1283.2 1581.1 L1285.2 1582.5 L1287.7 1585.4 L1290.2 1585.0 L1292.7 1578.4 L1295.2 1571.0 L1297.7 1566.1 L1300.2 1563.5 L1302.7 1560.1 L1305.2 1548.8 L1307.7 1533.6 L1310.2 1522.5 L1311.4 1520.5 L1312.7 1522.2 L1315.2 1531.1 L1317.7 1547.4 L1320.2 1564.8 L1322.7 1577.3 L1325.2 1580.7 L1327.7 1576.4 L1330.2 1572.9 L1332.5 1571.9 L1335.2 1574.7 L1337.7 1579.8 L1340.2 1584.7 L1342.7 1586.0 L1345.2 1586.3 L1347.7 1586.4 L1350.2 1586.4 L1352.7 1586.3 L1355.2 1586.1 L1357.7 1585.8 L1360.2 1584.0 L1362.7 1582.0 L1365.2 1580.4 L1368.6 1579.8 L1370.3 1580.5 L1372.8 1582.6 L1375.3 1585.4 L1377.8 1585.1 L1380.3 1583.5 L1382.8 1580.9 L1386.0 1580.3 L1387.8 1582.0 L1390.3 1585.0 L1392.8 1586.1 L1395.3 1580.3 L1397.8 1572.8 L1400.2 1568.7 L1402.8 1569.0 L1405.3 1572.8 L1407.8 1580.7 L1410.3 1585.4 L1412.8 1586.3 L1415.3 1586.7 L1417.8 1586.6 L1420.3 1586.6 L1422.8 1586.5 L1425.3 1586.4 L1427.8 1586.3 L1430.3 1586.2 L1432.8 1586.1 L1435.3 1586.2 L1437.8 1586.2 L1440.3 1586.4 L1442.8 1586.5 L1445.3 1586.6 L1447.8 1586.7 L1450.3 1586.4 L1452.8 1585.9 L1455.3 1584.9 L1457.8 1579.1 L1460.3 1564.2 L1462.8 1538.1 L1465.3 1516.9 L1467.8 1508.9 L1470.8 1507.3 L1472.8 1518.3 L1475.3 1542.9 L1477.8 1568.8 L1480.3 1586.2 L1482.8 1583.2 L1485.3 1572.7 L1487.8 1563.0 L1490.6 1560.8 L1492.8 1565.5 L1495.3 1575.1 L1497.8 1584.3 L1500.3 1585.1 L1502.8 1585.1 L1505.4 1584.6 L1507.9 1583.8 L1510.4 1584.7 L1512.9 1585.6 L1515.4 1585.5 L1517.9 1585.3 L1520.4 1585.1 L1522.9 1585.2 L1525.4 1585.7 L1527.9 1586.1 L1530.4 1586.1 L1532.9 1585.9 L1535.4 1585.6 L1537.9 1585.1 L1540.4 1582.4 L1542.9 1578.6 L1545.4 1575.1 L1548.6 1572.7 L1550.4 1573.6 L1552.9 1576.6 L1555.4 1581.5 L1557.9 1585.4 L1560.4 1586.1 L1562.9 1586.4 L1565.4 1586.4 L1567.9 1586.4 L1570.4 1586.4 L1572.9 1586.4 L1575.4 1586.4 L1577.9 1586.4 L1580.4 1586.4 L1582.9 1585.6 L1585.4 1583.2 L1587.9 1578.9 L1590.4 1572.2 L1592.9 1565.1 L1595.4 1560.1 L1598.7 1556.6 L1600.4 1557.3 L1602.9 1561.1 L1605.4 1570.6 L1607.9 1579.8 L1610.4 1584.5 L1612.9 1585.6 L1615.4 1585.3 L1617.9 1585.1 L1620.4 1585.2 L1622.9 1585.5 L1625.4 1585.7 L1627.9 1586.0 L1630.4 1586.1 L1632.9 1586.1 L1635.4 1586.1 L1637.9 1586.1 L1640.5 1586.1 L1643.0 1586.1 L1645.5 1586.1 L1648.0 1586.1 L1650.5 1586.0 L1653.0 1585.9 L1655.5 1585.7 L1658.0 1585.5 L1660.5 1585.1 L1663.0 1584.4 L1665.5 1583.6 L1668.0 1582.4 L1670.5 1581.6 L1673.6 1581.1 L1675.5 1581.5 L1678.0 1582.5 L1680.5 1584.6 L1683.0 1585.7 L1685.5 1585.8 L1688.0 1586.0 L1690.5 1586.1 L1693.0 1586.1 L1695.5 1586.1 L1698.0 1586.1 L1700.5 1586.1 L1703.0 1586.1 L1705.5 1586.1 L1708.0 1586.1 L1710.5 1586.1 L1713.0 1586.1 L1715.5 1585.9 L1718.0 1585.3 L1720.5 1584.5 L1723.0 1582.4 L1725.5 1580.4 L1728.9 1578.8 L1730.5 1579.2 L1733.0 1581.0 L1735.5 1584.7 L1738.0 1584.9 L1740.5 1584.2 L1743.0 1582.9 L1745.5 1581.1 L1748.0 1580.2 L1750.0 1579.8 L1753.0 1580.9 L1755.5 1583.5 L1758.0 1585.2 L1760.5 1585.6 L1763.0 1585.8 L1765.5 1586.0 L1768.0 1586.1 L1770.5 1586.1 L1773.0 1586.1 L1775.5 1586.1 L1778.1 1586.1 L1780.6 1586.1 L1783.1 1586.1 L1785.6 1586.1 L1788.1 1586.1 L1790.6 1586.1 L1793.1 1585.9 L1795.6 1585.4 L1798.1 1584.9 L1800.6 1584.2 L1803.1 1582.7 L1805.6 1581.7 L1808.8 1581.1 L1810.6 1581.5 L1813.1 1582.7 L1815.6 1585.1 L1818.1 1585.7 L1820.6 1585.9 L1823.1 1586.0 L1825.6 1586.1 L1828.1 1586.1 L1830.6 1586.2 L1833.1 1586.2 L1835.6 1586.3 L1838.1 1586.3 L1840.6 1586.3 L1843.1 1586.3 L1845.6 1586.4 L1848.1 1586.4 L1850.6 1586.4 L1853.1 1586.4 L1855.6 1586.4 L1858.1 1586.4 L1860.6 1586.4 L1863.1 1586.4 L1865.6 1586.4 L1868.1 1586.4 L1870.6 1586.4 L1873.1 1586.4 L1875.6 1586.4 L1878.1 1586.4 L1880.6 1586.4 L1883.1 1586.4 L1885.6 1586.4 L1888.1 1586.4 L1890.6 1586.4 L1893.1 1586.3 L1895.6 1586.3 L1898.1 1586.3 L1900.6 1586.2 L1903.1 1586.2 L1905.6 1586.2 L1908.1 1586.1 L1910.6 1586.1 L1913.2 1586.1 L1915.7 1586.1 L1918.2 1586.1 L1920.7 1586.0 L1923.2 1586.0 L1925.7 1585.9 L1928.2 1585.9 L1930.7 1585.6 L1933.2 1584.9 L1935.7 1584.0 L1938.2 1583.3 L1940.7 1582.6 L1943.2 1582.7 L1945.7 1584.1 L1948.2 1584.7 L1950.7 1585.0 L1953.2 1585.1 L1955.7 1584.4 L1958.2 1582.8 L1960.7 1581.7 L1962.9 1581.1 L1965.7 1581.9 L1968.2 1583.4 L1970.7 1585.1 L1973.2 1585.2 L1975.7 1585.4 L1978.2 1585.5 L1980.7 1585.6 L1983.2 1585.6 L1985.7 1585.6 L1988.2 1585.4 L1990.7 1584.7 L1993.2 1584.7 L1995.7 1585.4 L1998.2 1585.7 L2000.7 1585.8 L2003.2 1585.9 L2005.7 1586.0 L2008.2 1586.1 L2010.7 1586.1 L2013.2 1586.1 L2015.7 1586.1 L2018.2 1586.1 L2020.7 1586.1 L2023.2 1586.1 L2025.7 1586.1 L2028.2 1586.1 L2030.7 1586.1 L2033.2 1586.1 L2035.7 1586.1 L2038.2 1586.1 L2040.7 1586.1 L2043.2 1586.1 L2045.7 1586.0 L2048.3 1585.9 L2050.8 1585.7 L2053.3 1585.5 L2055.8 1585.0 L2058.3 1584.3 L2060.8 1584.0 L2063.3 1584.9 L2065.8 1585.6 L2068.3 1585.6 L2070.8 1585.6 L2073.3 1585.6 L2075.8 1585.6 L2078.3 1585.6 L2080.8 1585.3 L2083.3 1584.4 L2085.8 1583.4 L2088.3 1583.0 L2090.8 1583.4 L2093.3 1584.1 L2095.8 1584.9 L2098.3 1585.0 L2100.8 1584.2 L2103.3 1583.3 L2105.8 1583.0 L2108.3 1583.4 L2110.8 1583.8 L2113.3 1584.2 L2115.8 1584.6 L2115.8 1587.2 L1165.1 1587.2 Z" fill="#ff3f8c" stroke="#343434" stroke-width="2" stroke-linejoin="miter" stroke-miterlimit="6"/>
</g>
<line x1="1165.1" y1="1355.2" x2="2115.8" y2="1355.2" stroke="#000" stroke-width="1.6"/>
<rect x="1165.1" y="1106.2" width="950.7" height="481.0" fill="none" stroke="#000" stroke-width="2.6"/>
<line x1="1246.8" y1="1587.2" x2="1246.8" y2="1597.8" stroke="#000" stroke-width="2.5"/>
<line x1="1382.6" y1="1587.2" x2="1382.6" y2="1597.8" stroke="#000" stroke-width="2.5"/>
<line x1="1518.4" y1="1587.2" x2="1518.4" y2="1597.8" stroke="#000" stroke-width="2.5"/>
<line x1="1654.2" y1="1587.2" x2="1654.2" y2="1597.8" stroke="#000" stroke-width="2.5"/>
<line x1="1790.0" y1="1587.2" x2="1790.0" y2="1597.8" stroke="#000" stroke-width="2.5"/>
<line x1="1925.8" y1="1587.2" x2="1925.8" y2="1597.8" stroke="#000" stroke-width="2.5"/>
<line x1="2061.6" y1="1587.2" x2="2061.6" y2="1597.8" stroke="#000" stroke-width="2.5"/>
</g>
<g id="labels">
<text x="1.3" y="29.5" font-size="33.4" font-weight="bold">a</text>
<text><tspan x="141.1 159.0 176.9" y="898.2" font-size="28.1">600</tspan></text>
<text><tspan x="290.4 308.3 326.2" y="898.2" font-size="28.1">650</tspan></text>
<text><tspan x="439.6 457.4 475.3" y="898.2" font-size="28.1">700</tspan></text>
<text><tspan x="588.9 606.7 624.6" y="898.2" font-size="28.1">750</tspan></text>
<text><tspan x="738.4 756.2 774.1" y="898.2" font-size="28.1">800</tspan></text>
<text><tspan x="887.7 905.5 923.4" y="898.2" font-size="28.1">850</tspan></text>
<text><tspan x="1037.0 1054.9 1072.8" y="898.2" font-size="28.1">900</tspan></text>
<text><tspan x="480.5 508.8 526.2 543.0 560.4 568.0 585.4 603.5 621.6 632.9 662.2 674.3 692.5 721.5" y="952.3" font-size="28.1">Wavelength(nm)</tspan></text>
<text transform="translate(71.2,0) rotate(-90)"><tspan x="-508.8 -488.8 -469.4 -458.0" y="0.0" font-size="28.1">ΔT/T</tspan></text>
<text><tspan x="107.7 126.0 144.2 163.8 175.5 193.7 212.0 240.3 250.4" y="182.8" font-size="28.1">100-200fs</tspan></text>
<text><tspan x="107.6 125.9 144.2 163.8 175.5 193.7 212.0 240.3 250.4" y="381.2" font-size="28.1">200-300fs</tspan></text>
<text><tspan x="106.8 125.1 143.4 163.0 174.7 193.0 211.2 239.6 249.7" y="579.4" font-size="28.1">500-700fs</tspan></text>
<text><tspan x="107.7 126.0 144.4 162.7 182.4 194.1 212.4 230.8 249.1 277.6 287.7" y="776.5" font-size="28.1">1900-2000fs</tspan></text>
<text font-weight="bold" fill="#f4337c"><tspan x="727.6" y="132.2" font-size="27.4">P</tspan><tspan x="749.1" y="138.0" font-size="27.4">1</tspan></text>
<text font-weight="bold" fill="#a163f7"><tspan x="913.0" y="151.2" font-size="27.4">P</tspan><tspan x="934.5" y="157.0" font-size="27.4">2</tspan></text>
<text font-weight="bold" fill="#f4337c"><tspan x="724.0" y="327.5" font-size="27.4">P</tspan><tspan x="745.5" y="333.3" font-size="27.4">1</tspan></text>
<text font-weight="bold" fill="#a163f7"><tspan x="873.1" y="351.5" font-size="27.4">P</tspan><tspan x="894.6" y="357.3" font-size="27.4">2</tspan></text>
<text font-weight="bold" fill="#f4337c"><tspan x="725.5" y="523.8" font-size="27.4">P</tspan><tspan x="747.0" y="529.6" font-size="27.4">1</tspan></text>
<text font-weight="bold" fill="#a163f7"><tspan x="850.5" y="545.5" font-size="27.4">P</tspan><tspan x="872.0" y="551.3" font-size="27.4">2</tspan></text>
<text font-weight="bold" fill="#f4337c"><tspan x="720.6" y="717.2" font-size="27.4">P</tspan><tspan x="742.1" y="723.0" font-size="27.4">1</tspan></text>
<text font-weight="bold" fill="#a163f7"><tspan x="812.4" y="737.5" font-size="27.4">P</tspan><tspan x="833.9" y="743.3" font-size="27.4">2</tspan></text>
<text x="1254.1" y="26.8" font-size="33.4" font-weight="bold">b</text>
<text><tspan x="1398.4 1416.3 1434.1" y="897.1" font-size="28.1">250</tspan></text>
<text><tspan x="1595.2 1613.0 1630.9" y="897.1" font-size="28.1">750</tspan></text>
<text><tspan x="1782.5 1800.4 1818.3 1836.2" y="897.1" font-size="28.1">1250</tspan></text>
<text><tspan x="1986.2 2004.1 2022.0 2039.9" y="897.1" font-size="28.1">1750</tspan></text>
<text><tspan x="1316.3" y="134.8" font-size="28.1">0</tspan></text>
<text><tspan x="1305.6 1317.0" y="366.1" font-size="28.1">-1</tspan></text>
<text><tspan x="1305.8 1317.2" y="600.6" font-size="28.1">-2</tspan></text>
<text><tspan x="1305.2 1316.7" y="842.1" font-size="28.1">-3</tspan></text>
<text><tspan x="1544.1 1561.5 1579.8 1607.7 1627.2 1639.0 1656.6 1668.6 1686.1 1703.9 1731.4 1749.3 1766.7 1774.5 1792.0 1820.2 1832.3 1842.5 1858.5" y="951.9" font-size="28.1">Pump-Probedelay(fs)</tspan></text>
<text transform="translate(1278.1,0) rotate(-90)"><tspan x="-614.0 -594.0 -574.6 -563.1 -534.3 -522.1" y="0.0" font-size="28.1">ΔT/T(P</tspan><tspan x="-504.7" y="4.8" font-size="26.5">2</tspan><tspan x="-486.5 -473.0 -461.0 -440.9 -421.5 -410.0 -381.3 -369.1" y="0.0" font-size="28.1">)-ΔT/T(P</tspan><tspan x="-351.7" y="4.8" font-size="26.5">1</tspan><tspan x="-333.4" y="0.0" font-size="28.1">)</tspan></text>
<text transform="translate(1278.0,0) rotate(-90)"><tspan x="-181.7 -169.5 -152.5 -134.2" y="0.0" font-size="28.1">(x10</tspan><tspan x="-114.9 -106.5" y="-11.3" font-size="20">-3</tspan><tspan x="-92.5" y="0.0" font-size="28.1">)</tspan></text>
<text><tspan x="2042.0" y="431.7" font-size="27.5">D</tspan><tspan x="2063.7" y="437.7" font-size="16.5">n</tspan></text>
<text><tspan x="1843.9" y="536.0" font-size="27.5">D</tspan><tspan x="1865.6" y="542.0" font-size="16.5">2</tspan></text>
<text><tspan x="2048.1" y="624.4" font-size="27.5">D</tspan><tspan x="2069.8" y="630.4" font-size="16.5">1</tspan></text>
<text><tspan x="1828.9" y="826.4" font-size="27.5">D</tspan><tspan x="1850.6" y="832.4" font-size="16.5">0</tspan></text>
<text><tspan x="1996.0 2014.6 2033.2 2062.1 2072.4" y="575.8" font-size="28.1">670fs</tspan></text>
<text fill="#5b30e0"><tspan x="1865.8" y="696.5" font-size="27.5">P</tspan><tspan x="1882.9" y="701.8" font-size="27.5">2</tspan></text>
<text fill="#f0447f"><tspan x="1949.8" y="729.9" font-size="27.5">P</tspan><tspan x="1966.9" y="735.9" font-size="27.5">1</tspan></text>
<text x="0.3" y="1058.5" font-size="33.4" font-weight="bold">c</text>
<text><tspan x="465.5" y="1075.3" font-size="28.1">P</tspan><tspan x="482.8" y="1080.6" font-size="25.5">2</tspan><tspan x="509.0 526.3 542.8 558.0 565.9 577.0 594.3 605.5 613.3 630.7" y="1075.3" font-size="28.1">excitation</tspan></text>
<text><tspan x="487.1 504.1 521.7 533.6 541.4 568.3 579.5 587.3 614.8" y="1154.1" font-size="28.1">earlytime</tspan></text>
<text><tspan x="464.4 476.5 494.7 512.9 532.4 544.1 562.3 580.5 598.7 627.0 637.1 653.0" y="1192.9" font-size="28.1">(150-1500fs)</tspan></text>
<text><tspan x="486.3 494.0 511.5 522.5 540.2 572.5 583.8 591.7 619.4" y="1418.5" font-size="28.1">latertime</tspan></text>
<text><tspan x="466.6 478.7 496.9 515.2 534.8 546.4 564.7 582.9 601.2 629.5 639.6 655.5" y="1458.5" font-size="28.1">(650-2000fs)</tspan></text>
<text><tspan x="151.4 169.3 187.1" y="1637.7" font-size="28.1">250</tspan></text>
<text><tspan x="422.6 440.4 458.3" y="1637.7" font-size="28.1">750</tspan></text>
<text><tspan x="680.5 698.4 716.3 734.2" y="1637.7" font-size="28.1">1250</tspan></text>
<text><tspan x="952.8 970.7 988.6 1006.5" y="1637.7" font-size="28.1">1750</tspan></text>
<text><tspan x="425.4 453.3 470.5 487.0 504.2 522.1 540.1 567.5 585.1 602.5 625.2 636.8 652.0" y="1691.6" font-size="28.1">Wavenumber(cm</tspan><tspan x="680.1 687.3" y="1681.6" font-size="17.5">-1</tspan><tspan x="699.8" y="1691.6" font-size="28.1">)</tspan></text>
<text transform="translate(67.5,0) rotate(-90)"><tspan x="-1406.0 -1394.6 -1378.0 -1361.4 -1342.1" y="0.0" font-size="28.1">|FFT|</tspan><tspan x="-1329.7" y="-11.0" font-size="27">2</tspan></text>
<text x="1140.9" y="1065.3" font-size="33.4" font-weight="bold">d</text>
<text><tspan x="1524.2" y="1074.4" font-size="28.1">P</tspan><tspan x="1541.5" y="1080.0" font-size="26.5">1</tspan><tspan x="1568.5 1585.8 1602.3 1617.6 1625.5 1636.6 1654.0 1665.2 1673.0 1690.5" y="1074.4" font-size="28.1">excitation</tspan></text>
<text><tspan x="1560.1 1577.2 1594.8 1606.7 1614.6 1641.7 1652.9 1660.7 1688.3" y="1169.3" font-size="28.1">earlytime</tspan></text>
<text><tspan x="1537.8 1549.9 1568.2 1586.4 1606.0 1617.7 1636.0 1654.2 1672.5 1700.9 1711.0 1726.9" y="1207.6" font-size="28.1">(150-1500fs)</tspan></text>
<text><tspan x="1562.8 1570.5 1587.9 1598.8 1616.4 1648.6 1659.8 1667.6 1695.2" y="1421.4" font-size="28.1">latertime</tspan></text>
<text><tspan x="1542.6 1554.7 1573.0 1591.4 1611.0 1622.7 1641.0 1659.3 1677.7 1706.1 1716.2 1732.2" y="1459.8" font-size="28.1">(650-2000fs)</tspan></text>
<text><tspan x="1222.9 1240.8 1258.6" y="1638.2" font-size="28.1">250</tspan></text>
<text><tspan x="1492.8 1510.6 1528.5" y="1638.2" font-size="28.1">750</tspan></text>
<text><tspan x="1751.3 1769.2 1787.1 1805.0" y="1638.2" font-size="28.1">1250</tspan></text>
<text><tspan x="2023.8 2041.7 2059.6 2077.5" y="1638.2" font-size="28.1">1750</tspan></text>
<text><tspan x="1495.6 1523.6 1540.9 1557.5 1574.8 1592.8 1610.9 1638.5 1656.1 1673.6 1696.5 1708.2 1723.4" y="1691.8" font-size="28.1">Wavenumber(cm</tspan><tspan x="1751.7 1758.9" y="1681.8" font-size="17.5">-1</tspan><tspan x="1771.5" y="1691.8" font-size="28.1">)</tspan></text>
<text transform="translate(1136.5,0) rotate(-90)"><tspan x="-1403.6 -1392.2 -1375.6 -1359.0 -1339.7" y="0.0" font-size="28.1">|FFT|</tspan><tspan x="-1327.3" y="-11.0" font-size="27">2</tspan></text>
</g>
</svg>
</body>
</html>
